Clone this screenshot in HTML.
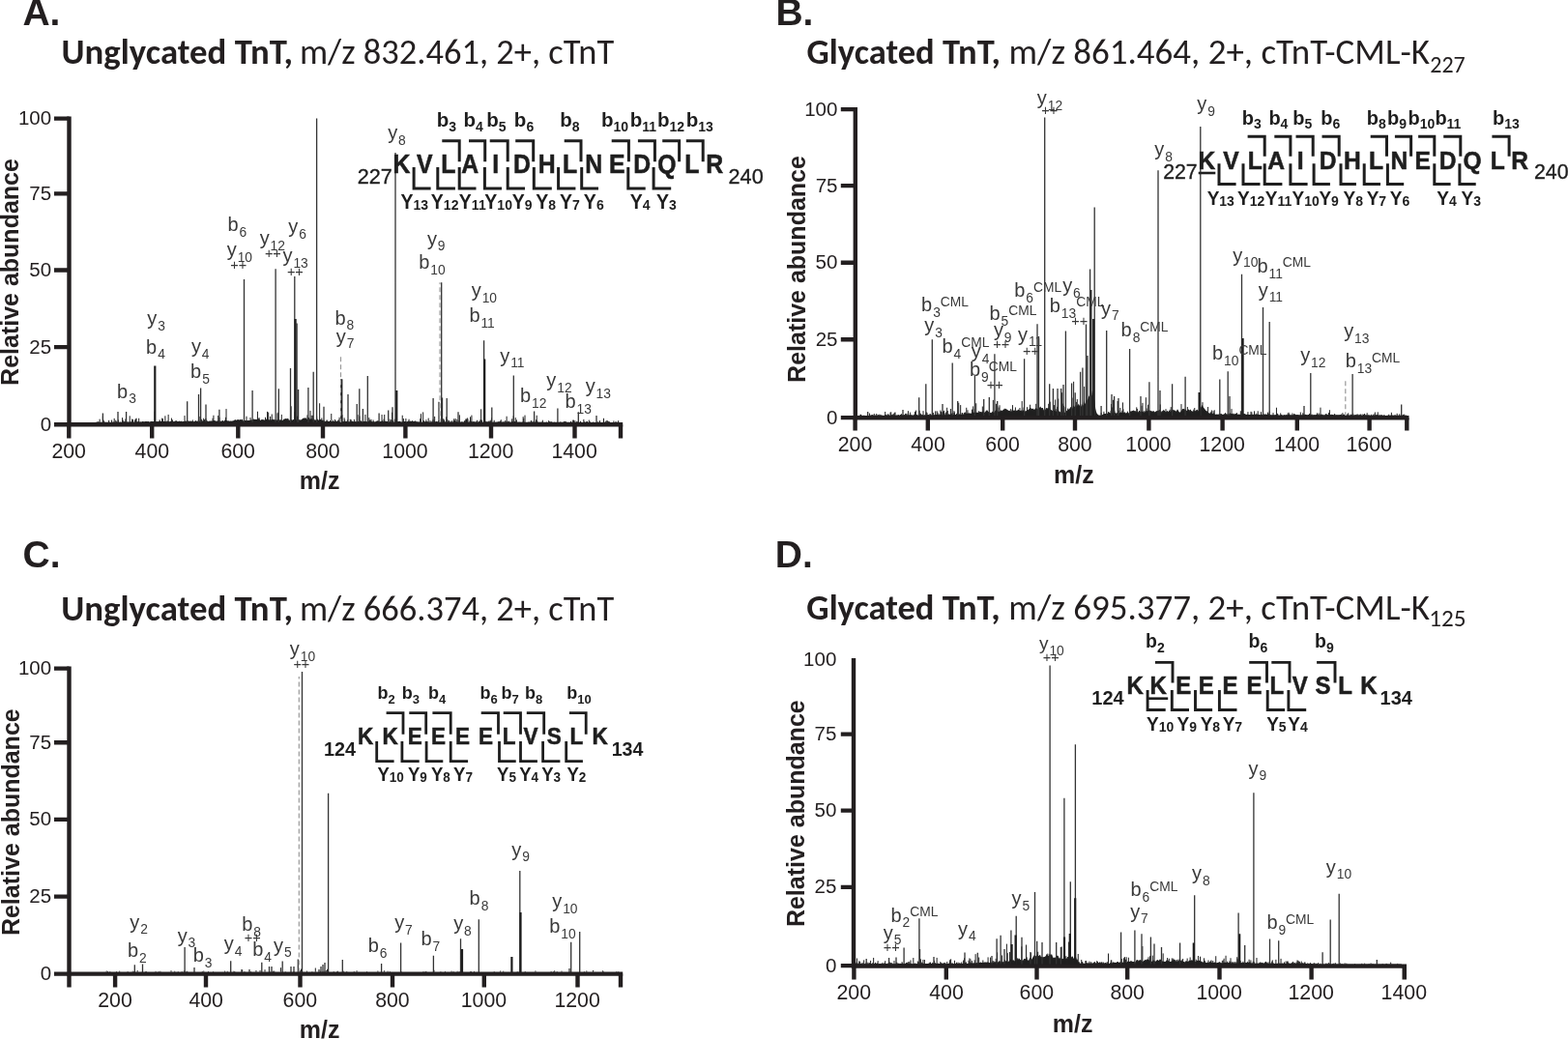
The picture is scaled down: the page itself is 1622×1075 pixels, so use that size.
<!DOCTYPE html>
<html><head><meta charset="utf-8"><title>Figure</title>
<style>html,body{margin:0;padding:0;background:#fff;}svg{display:block;}</style></head>
<body><svg width="1622" height="1075" viewBox="0 0 1622 1075">
<rect width="1622" height="1075" fill="#fff"/>
<text x="23.43" y="25.9" font-size="39" font-weight="700" fill="#231f20" font-family="&quot;Liberation Sans&quot;, Arial, Helvetica, sans-serif">A.</text>
<text x="63.54" y="66.1" font-size="36.2" font-weight="700" fill="#231f20" font-family="Carlito, Calibri, &quot;Liberation Sans&quot;, sans-serif" textLength="239.51" lengthAdjust="spacingAndGlyphs">Unglycated TnT,</text>
<text x="309.9" y="66.1" font-size="36.2" font-weight="400" fill="#231f20" font-family="Carlito, Calibri, &quot;Liberation Sans&quot;, sans-serif" textLength="325.33" lengthAdjust="spacingAndGlyphs">m/z 832.461, 2+, cTnT</text>
<text x="802.39" y="25.8" font-size="39" font-weight="700" fill="#231f20" font-family="&quot;Liberation Sans&quot;, Arial, Helvetica, sans-serif">B.</text>
<text x="834.57" y="65.6" font-size="36.2" font-weight="700" fill="#231f20" font-family="Carlito, Calibri, &quot;Liberation Sans&quot;, sans-serif" textLength="200.26" lengthAdjust="spacingAndGlyphs">Glycated TnT,</text>
<text x="1043.58" y="65.6" font-size="36.2" font-weight="400" fill="#231f20" font-family="Carlito, Calibri, &quot;Liberation Sans&quot;, sans-serif" textLength="435.39" lengthAdjust="spacingAndGlyphs">m/z 861.464, 2+, cTnT-CML-K</text>
<text x="1479.32" y="74.5" font-size="24" fill="#231f20" font-family="Carlito, Calibri, &quot;Liberation Sans&quot;, sans-serif" textLength="36.45" lengthAdjust="spacingAndGlyphs">227</text>
<text x="23.6" y="587.4" font-size="39" font-weight="700" fill="#231f20" font-family="&quot;Liberation Sans&quot;, Arial, Helvetica, sans-serif">C.</text>
<text x="63.34" y="641.6" font-size="36.2" font-weight="700" fill="#231f20" font-family="Carlito, Calibri, &quot;Liberation Sans&quot;, sans-serif" textLength="239.62" lengthAdjust="spacingAndGlyphs">Unglycated TnT,</text>
<text x="309.9" y="641.6" font-size="36.2" font-weight="400" fill="#231f20" font-family="Carlito, Calibri, &quot;Liberation Sans&quot;, sans-serif" textLength="325.33" lengthAdjust="spacingAndGlyphs">m/z 666.374, 2+, cTnT</text>
<text x="801.79" y="587" font-size="39" font-weight="700" fill="#231f20" font-family="&quot;Liberation Sans&quot;, Arial, Helvetica, sans-serif">D.</text>
<text x="834.37" y="641.3" font-size="36.2" font-weight="700" fill="#231f20" font-family="Carlito, Calibri, &quot;Liberation Sans&quot;, sans-serif" textLength="200.26" lengthAdjust="spacingAndGlyphs">Glycated TnT,</text>
<text x="1043.38" y="641.3" font-size="36.2" font-weight="400" fill="#231f20" font-family="Carlito, Calibri, &quot;Liberation Sans&quot;, sans-serif" textLength="435.59" lengthAdjust="spacingAndGlyphs">m/z 695.377, 2+, cTnT-CML-K</text>
<text x="1478.23" y="648.2" font-size="24" fill="#231f20" font-family="Carlito, Calibri, &quot;Liberation Sans&quot;, sans-serif" textLength="38.26" lengthAdjust="spacingAndGlyphs">125</text>
<path d="M100 437.4v-0.87M101 437.4v-1.03M101.81 437.4v-1.03M103.14 437.4v-3.75M106.4 437.4v-6.84M107.17 437.4v-2.73M107.76 437.4v-1.27M112.63 437.4v-2.58M115.59 437.4v-2.83M117.27 437.4v-0.85M118.19 437.4v-4.55M119.74 437.4v-2.65M120.81 437.4v-1.54M122.43 437.4v-3.01M126.61 437.4v-5.31M127.11 437.4v-2.89M127.92 437.4v-1.63M128.95 437.4v-1.15M129.92 437.4v-3.92M131.51 437.4v-0.64M134.21 437.4v-7.1M135.23 437.4v-0.77M136.65 437.4v-3.89M137.53 437.4v-3.32M139.71 437.4v-3.01M140.42 437.4v-4.01M141.09 437.4v-4.71M143.66 437.4v-4.66M147.34 437.4v-0.75M150.21 437.4v-0.95M152.87 437.4v-1.19M153.54 437.4v-1.26M155.98 437.4v-0.79M158.48 437.4v-0.93M160.23 437.4v-11.72M165.17 437.4v-3.07M167.69 437.4v-4.79M168.41 437.4v-4.17M170.89 437.4v-7.09M172.63 437.4v-0.64M173.09 437.4v-2.17M174.14 437.4v-8.47M174.97 437.4v-1.28M177.41 437.4v-4.83M177.87 437.4v-0.95M178.42 437.4v-2.99M179.29 437.4v-1.38M180.2 437.4v-0.66M182.07 437.4v-2.26M191.04 437.4v-7.37M191.76 437.4v-0.78M192.5 437.4v-0.63M193.54 437.4v-0.71M194.07 437.4v-1.98M197.07 437.4v-1.94M199.31 437.4v-2.94M201.88 437.4v-1.71M202.45 437.4v-2.12M204.02 437.4v-0.69M204.81 437.4v-1.15M205.3 437.4v-2.75M206.93 437.4v-6.47M208.63 437.4v-3.62M210.2 437.4v-0.79M210.67 437.4v-4.7M211.53 437.4v-3.29M212.35 437.4v-1M212.87 437.4v-4.43M213.44 437.4v-2.65M214.12 437.4v-2.04M214.66 437.4v-1.48M220.04 437.4v-4.69M220.93 437.4v-7.67M221.88 437.4v-0.78M222.4 437.4v-1.25M222.86 437.4v-1.26M224.38 437.4v-0.92M225.7 437.4v-7.49M226.17 437.4v-2.22M226.96 437.4v-5.67M230.46 437.4v-2.25M232.58 437.4v-2.7M233.47 437.4v-5.6M234.02 437.4v-14.33M236.71 437.4v-1.77M243.3 437.4v-2.69M243.76 437.4v-1.6M245.43 437.4v-1.49M246.23 437.4v-3.4M249.18 437.4v-1.77M250.08 437.4v-3.35M250.56 437.4v-3.6M253.97 437.4v-1.03M254.99 437.4v-6.66M256.92 437.4v-1.95M257.59 437.4v-1.6M258.38 437.4v-1.27M259.01 437.4v-5.37M259.48 437.4v-1.08M266.45 437.4v-11.65M267.22 437.4v-3.22M268.07 437.4v-5.31M268.87 437.4v-1M272.84 437.4v-1.53M273.63 437.4v-1.86M274.53 437.4v-5.67M276.54 437.4v-11.51M277.16 437.4v-1.95M277.67 437.4v-10.83M279.62 437.4v-6.48M281.23 437.4v-8.89M283.08 437.4v-3.62M285.4 437.4v-2.56M287 437.4v-9.99M287.98 437.4v-10.7M288.77 437.4v-1.63M289.89 437.4v-1.79M290.39 437.4v-1.4M291.26 437.4v-8.47M292.59 437.4v-1.5M295.74 437.4v-4.06M297.35 437.4v-4.48M298.02 437.4v-4.23M298.59 437.4v-1.02M300.15 437.4v-1.24M301.13 437.4v-17.13M301.89 437.4v-2.55M303.85 437.4v-2.72M304.77 437.4v-11.27M307.54 437.4v-6.8M308.45 437.4v-1.21M309.99 437.4v-2.8M311.87 437.4v-0.86M315.48 437.4v-1.54M316.41 437.4v-3.9M317.99 437.4v-8.04M318.56 437.4v-5.54M319.59 437.4v-5.29M321.03 437.4v-12.49M322.22 437.4v-7.6M322.81 437.4v-1.5M323.61 437.4v-7.59M324.23 437.4v-1.25M324.87 437.4v-0.91M326.6 437.4v-2.71M327.63 437.4v-6.79M329.04 437.4v-2.88M330.64 437.4v-20.15M331.38 437.4v-1M332.8 437.4v-4.89M335.21 437.4v-2.6M337.66 437.4v-1.33M338.17 437.4v-3M341.6 437.4v-2.4M342.78 437.4v-9.4M343.42 437.4v-1.21M344.6 437.4v-2.73M346.47 437.4v-3.4M347.34 437.4v-1.99M349 437.4v-1.68M349.62 437.4v-2.14M350.25 437.4v-3.24M351.1 437.4v-5.57M353.93 437.4v-8.12M355.35 437.4v-0.61M356.15 437.4v-5.09M356.7 437.4v-3.08M357.9 437.4v-1.49M359.49 437.4v-3.02M359.95 437.4v-1.21M362.29 437.4v-3.63M363.14 437.4v-3.29M366.37 437.4v-3.5M367.12 437.4v-1.13M368.17 437.4v-1.12M369.94 437.4v-8.29M370.54 437.4v-1.2M371.85 437.4v-6.93M373.66 437.4v-1.92M376.13 437.4v-0.63M377.35 437.4v-0.61M377.91 437.4v-8.44M380.92 437.4v-1.71M381.85 437.4v-5.25M382.58 437.4v-3.09M383.37 437.4v-2.12M383.98 437.4v-3.57M384.82 437.4v-1.29M386.16 437.4v-2.86M390.28 437.4v-1.82M391.27 437.4v-2.06M392.63 437.4v-1.02M395.06 437.4v-8.43M395.58 437.4v-2.18M396.27 437.4v-1.15M397.04 437.4v-3.73M397.72 437.4v-8.44M403.13 437.4v-3.75M404.71 437.4v-3.2M405.52 437.4v-10.74M406.5 437.4v-2.15M408.25 437.4v-3.75M410.48 437.4v-5.39M413.08 437.4v-0.98M416.23 437.4v-7.68M416.81 437.4v-1.03M417.38 437.4v-4.36M419.88 437.4v-4.42M421.36 437.4v-1.33M422.58 437.4v-1.87M423.06 437.4v-3.71M424.16 437.4v-0.82M424.76 437.4v-1.76M426.36 437.4v-2.24M428.01 437.4v-1.69M428.85 437.4v-1.2M429.77 437.4v-1.94M433.19 437.4v-0.72M434.7 437.4v-4.17M435.5 437.4v-9.2M437.66 437.4v-10.95M438.4 437.4v-2.21M440.3 437.4v-0.63M440.89 437.4v-3.11M441.37 437.4v-1.27M442.13 437.4v-1.4M443.19 437.4v-4.82M444.97 437.4v-2.31M446.12 437.4v-0.7M447.16 437.4v-2.02M448.06 437.4v-3.63M449.04 437.4v-2.37M449.67 437.4v-6.49M451.64 437.4v-1.48M453.72 437.4v-2.24M454.55 437.4v-2.62M458.21 437.4v-4.05M458.99 437.4v-3.78M459.57 437.4v-2.78M461.72 437.4v-6.11M462.58 437.4v-3M463.04 437.4v-3.09M464.61 437.4v-2.33M467.16 437.4v-2.15M469.07 437.4v-2.06M469.66 437.4v-4.17M470.47 437.4v-2.56M471.17 437.4v-4.37M472.05 437.4v-0.7M472.9 437.4v-3.46M474.8 437.4v-2.31M475.38 437.4v-8.02M477.24 437.4v-0.86M478.24 437.4v-0.8M480.06 437.4v-0.98M480.57 437.4v-1.99M481.05 437.4v-2.37M481.8 437.4v-3.91M482.49 437.4v-3.79M483.34 437.4v-5.01M484 437.4v-3.99M486.04 437.4v-2.11M486.53 437.4v-6.08M487.28 437.4v-1.58M487.92 437.4v-7.8M489.37 437.4v-0.84M489.93 437.4v-1M490.95 437.4v-1.14M493.49 437.4v-2.63M495.59 437.4v-1.38M496.77 437.4v-2.98M497.62 437.4v-14.07M498.4 437.4v-2.88M501.74 437.4v-2.11M502.73 437.4v-0.66M505.91 437.4v-1.95M507.3 437.4v-2.71M507.95 437.4v-1.3M508.47 437.4v-5.21M511.21 437.4v-2.64M515.65 437.4v-0.66M517.4 437.4v-1.84M518.25 437.4v-3.17M519.74 437.4v-0.7M522.18 437.4v-0.63M522.7 437.4v-2.31M524.11 437.4v-6.68M524.88 437.4v-1.81M526.47 437.4v-1.71M528.33 437.4v-0.66M529.65 437.4v-4.03M530.66 437.4v-1.29M531.18 437.4v-7.08M531.97 437.4v-0.84M532.58 437.4v-1.3M533.25 437.4v-5.28M534.38 437.4v-3.01M537.12 437.4v-1.05M541.15 437.4v-6.25M541.7 437.4v-4.47M543 437.4v-7.81M549.39 437.4v-2.48M550.07 437.4v-0.7M551.01 437.4v-0.75M552.32 437.4v-1.81M554.54 437.4v-3.18M555.2 437.4v-7.61M555.96 437.4v-1.85M560.31 437.4v-0.62M561.32 437.4v-2.7M565.59 437.4v-0.88M566.97 437.4v-0.63M567.67 437.4v-2.27M568.49 437.4v-1.02M569.67 437.4v-0.79M570.68 437.4v-1.15M579.88 437.4v-0.64M583.79 437.4v-1.43M584.3 437.4v-1.51M585.79 437.4v-1.33M590.57 437.4v-1.48M592.69 437.4v-2.78M593.56 437.4v-2.76M594.89 437.4v-2.18M596.83 437.4v-1.55M597.52 437.4v-0.61M598.92 437.4v-0.89M600.53 437.4v-1.63M603.85 437.4v-3.49M604.55 437.4v-1.04M606.43 437.4v-1.11M607.56 437.4v-1.34M609.31 437.4v-2.84M610.3 437.4v-1.24M613.57 437.4v-0.92M618.64 437.4v-0.9M620.49 437.4v-2.23M624.51 437.4v-4.63M626.46 437.4v-1.15M627.23 437.4v-2.41M628.16 437.4v-0.74M628.68 437.4v-2.22M629.18 437.4v-1.32M630.1 437.4v-0.95M630.58 437.4v-0.85M634.86 437.4v-1.94M636.67 437.4v-0.65M637.14 437.4v-1.23M639.13 437.4v-0.88M639.63 437.4v-2.2" stroke="#1f1f1f" stroke-width="1" fill="none"/>
<path d="M100 438.4L100 436.99L100.8 436.94L101.6 436.87L102.4 436.75L103.2 436.67L104 436.74L104.8 436.78L105.6 436.67L106.4 436.78L107.2 436.85L108 436.74L108.8 436.84L109.6 436.85L110.4 436.83L111.2 436.79L112 436.81L112.8 436.79L113.6 436.77L114.4 436.91L115.2 436.67L116 436.85L116.8 436.74L117.6 436.68L118.4 436.7L119.2 436.78L120 436.87L120.8 436.8L121.6 436.78L122.4 436.69L123.2 436.75L124 436.54L124.8 436.55L125.6 436.78L126.4 436.7L127.2 436.38L128 436.69L128.8 436.55L129.6 436.28L130.4 436.45L131.2 436.4L132 436.5L132.8 436.57L133.6 436.44L134.4 436.38L135.2 436.5L136 436.45L136.8 436.41L137.6 436.25L138.4 436.56L139.2 436.69L140 436.66L140.8 436.63L141.6 436.3L142.4 436.35L143.2 436.1L144 436.25L144.8 436.4L145.6 436.22L146.4 436.5L147.2 436.06L148 435.93L148.8 436.18L149.6 436.32L150.4 436.04L151.2 435.92L152 435.96L152.8 436.37L153.6 436.09L154.4 436.43L155.2 436.21L156 436.14L156.8 435.84L157.6 435.89L158.4 436.34L159.2 435.92L160 435.84L160.8 435.91L161.6 436.36L162.4 436.05L163.2 436.13L164 435.97L164.8 435.67L165.6 435.56L166.4 436.12L167.2 435.87L168 436L168.8 435.83L169.6 436.02L170.4 436.06L171.2 436.08L172 436.34L172.8 436.31L173.6 435.97L174.4 436.31L175.2 436.44L176 435.94L176.8 435.82L177.6 435.85L178.4 436.21L179.2 436.38L180 436.31L180.8 435.75L181.6 435.79L182.4 435.5L183.2 435.94L184 435.99L184.8 435.91L185.6 435.61L186.4 436.06L187.2 435.65L188 435.78L188.8 436.22L189.6 436.09L190.4 436.07L191.2 435.8L192 435.44L192.8 435.64L193.6 435.56L194.4 435.78L195.2 435.54L196 436.02L196.8 435.69L197.6 436.03L198.4 435.82L199.2 436.06L200 436.05L200.8 436.2L201.6 436.11L202.4 435.84L203.2 435.76L204 435.85L204.8 435.71L205.6 435.39L206.4 435.68L207.2 435.61L208 435.66L208.8 435.21L209.6 435.61L210.4 435.45L211.2 435.81L212 435.96L212.8 435.58L213.6 435.53L214.4 435.82L215.2 436.15L216 435.56L216.8 435.7L217.6 435.44L218.4 435.58L219.2 435.47L220 435.46L220.8 435.04L221.6 434.89L222.4 435.27L223.2 435.42L224 435.76L224.8 435.39L225.6 435.87L226.4 435.89L227.2 435.34L228 435.91L228.8 435.5L229.6 435.42L230.4 435.4L231.2 435.62L232 435.91L232.8 435.21L233.6 435.05L234.4 434.92L235.2 435.62L236 435.22L236.8 435.63L237.6 435.85L238.4 435.6L239.2 435.38L240 435.81L240.8 435.26L241.6 435.15L242.4 434.66L243.2 434.33L244 434.42L244.8 434.85L245.6 434.21L246.4 434.17L247.2 434.74L248 434.12L248.8 433.96L249.6 434.58L250.4 434.9L251.2 435.44L252 434.85L252.8 435.03L253.6 435.05L254.4 435.12L255.2 435.36L256 434.89L256.8 435L257.6 435.04L258.4 435.07L259.2 434.69L260 433.88L260.8 434.68L261.6 433.9L262.4 433.51L263.2 433.73L264 433.95L264.8 433.73L265.6 433.96L266.4 433.85L267.2 433.36L268 433.35L268.8 434.23L269.6 435.02L270.4 433.89L271.2 434.32L272 433.79L272.8 434.49L273.6 434.45L274.4 434.57L275.2 434.01L276 433.35L276.8 433.78L277.6 433.89L278.4 434.32L279.2 434.74L280 433.69L280.8 434.63L281.6 433.64L282.4 433.64L283.2 434.67L284 433.72L284.8 434.66L285.6 434.3L286.4 434.91L287.2 433.67L288 434.26L288.8 433.54L289.6 434.63L290.4 434.09L291.2 434.89L292 435.36L292.8 434.62L293.6 433.5L294.4 433.48L295.2 433.16L296 433.12L296.8 433.58L297.6 434.61L298.4 434.3L299.2 434.77L300 434.38L300.8 434.5L301.6 434.29L302.4 434.73L303.2 434.03L304 434.2L304.8 434.15L305.6 434.88L306.4 434.49L307.2 434.16L308 433.22L308.8 433.51L309.6 434.45L310.4 434.61L311.2 434.62L312 433.94L312.8 433.15L313.6 432.69L314.4 432.5L315.2 432.45L316 432.55L316.8 432.45L317.6 434.12L318.4 434.06L319.2 433.84L320 433.55L320.8 433.54L321.6 433.53L322.4 432.92L323.2 434.22L324 434.04L324.8 433.11L325.6 434.41L326.4 434.91L327.2 433.71L328 432.93L328.8 434.33L329.6 435.02L330.4 433.93L331.2 433.84L332 434.24L332.8 434.53L333.6 434.64L334.4 434.86L335.2 435.79L336 436.2L336.8 435.81L337.6 435.47L338.4 435.42L339.2 435.74L340 435.96L340.8 436.07L341.6 436.39L342.4 435.94L343.2 436.13L344 435.96L344.8 435.93L345.6 436.06L346.4 435.86L347.2 435.94L348 436.15L348.8 435.75L349.6 436.11L350.4 436.31L351.2 436.33L352 436.16L352.8 435.84L353.6 436.03L354.4 436.21L355.2 435.97L356 436.16L356.8 436.05L357.6 436.21L358.4 435.8L359.2 436.14L360 436.27L360.8 436.28L361.6 436.27L362.4 435.96L363.2 435.85L364 435.7L364.8 435.82L365.6 436.24L366.4 435.92L367.2 436.16L368 436.3L368.8 436.23L369.6 435.75L370.4 435.99L371.2 436.12L372 435.76L372.8 435.53L373.6 435.87L374.4 436.23L375.2 435.92L376 435.77L376.8 436.03L377.6 435.82L378.4 436.03L379.2 436.2L380 436.06L380.8 435.88L381.6 435.99L382.4 435.8L383.2 436.29L384 436.18L384.8 436.22L385.6 436.46L386.4 435.97L387.2 436.29L388 436.4L388.8 435.97L389.6 435.7L390.4 435.59L391.2 435.96L392 435.72L392.8 436.17L393.6 435.98L394.4 435.73L395.2 436.14L396 436.38L396.8 436.13L397.6 435.85L398.4 435.83L399.2 435.66L400 435.93L400.8 436.12L401.6 436.39L402.4 436.42L403.2 435.98L404 436.36L404.8 436.47L405.6 436.41L406.4 436.59L407.2 436.51L408 436.55L408.8 436.61L409.6 436.37L410.4 436.24L411.2 436.16L412 435.99L412.8 436.06L413.6 435.82L414.4 436.28L415.2 436.42L416 436.58L416.8 436.51L417.6 436.18L418.4 435.91L419.2 436.05L420 436.35L420.8 436.39L421.6 436.25L422.4 436.37L423.2 436.1L424 435.85L424.8 436.06L425.6 436.08L426.4 435.93L427.2 436.11L428 436.37L428.8 436.03L429.6 435.83L430.4 436.34L431.2 436.13L432 436.26L432.8 436.54L433.6 436.61L434.4 436.65L435.2 436.31L436 436.48L436.8 436.67L437.6 436.65L438.4 436.29L439.2 436.29L440 436.2L440.8 436.28L441.6 436.48L442.4 436.69L443.2 436.62L444 436.74L444.8 436.67L445.6 436.43L446.4 436.46L447.2 436.41L448 436.3L448.8 436.43L449.6 436.47L450.4 436.19L451.2 436.23L452 436.34L452.8 436.33L453.6 436.37L454.4 436.47L455.2 436.19L456 436.43L456.8 436.17L457.6 436.08L458.4 436.02L459.2 436.4L460 436.39L460.8 436.13L461.6 436.38L462.4 436.58L463.2 436.37L464 436.53L464.8 436.43L465.6 436.61L466.4 436.27L467.2 436.46L468 436.66L468.8 436.44L469.6 436.52L470.4 436.44L471.2 436.44L472 436.21L472.8 436.32L473.6 436.44L474.4 436.7L475.2 436.57L476 436.63L476.8 436.5L477.6 436.41L478.4 436.45L479.2 436.66L480 436.56L480.8 436.52L481.6 436.42L482.4 436.2L483.2 436.44L484 436.48L484.8 436.69L485.6 436.43L486.4 436.59L487.2 436.36L488 436.27L488.8 436.5L489.6 436.29L490.4 436.38L491.2 436.47L492 436.45L492.8 436.25L493.6 436.38L494.4 436.44L495.2 436.58L496 436.37L496.8 436.43L497.6 436.55L498.4 436.68L499.2 436.73L500 436.46L500.8 436.34L501.6 436.19L502.4 436.15L503.2 436.25L504 436.24L504.8 436.28L505.6 436.26L506.4 436.25L507.2 436.54L508 436.39L508.8 436.56L509.6 436.67L510.4 436.41L511.2 436.7L512 436.62L512.8 436.66L513.6 436.47L514.4 436.46L515.2 436.31L516 436.23L516.8 436.33L517.6 436.65L518.4 436.53L519.2 436.73L520 436.42L520.8 436.33L521.6 436.54L522.4 436.7L523.2 436.55L524 436.45L524.8 436.29L525.6 436.38L526.4 436.65L527.2 436.52L528 436.75L528.8 436.51L529.6 436.43L530.4 436.39L531.2 436.33L532 436.43L532.8 436.32L533.6 436.4L534.4 436.51L535.2 436.61L536 436.67L536.8 436.85L537.6 436.88L538.4 436.62L539.2 436.74L540 436.61L540.8 436.5L541.6 436.48L542.4 436.55L543.2 436.67L544 436.75L544.8 436.82L545.6 436.67L546.4 436.58L547.2 436.42L548 436.61L548.8 436.45L549.6 436.38L550.4 436.6L551.2 436.44L552 436.5L552.8 436.39L553.6 436.41L554.4 436.61L555.2 436.72L556 436.69L556.8 436.68L557.6 436.86L558.4 436.62L559.2 436.64L560 436.67L560.8 436.58L561.6 436.73L562.4 436.82L563.2 436.72L564 436.81L564.8 436.82L565.6 436.92L566.4 436.98L567.2 436.9L568 436.79L568.8 436.57L569.6 436.59L570.4 436.68L571.2 436.73L572 436.82L572.8 436.78L573.6 436.57L574.4 436.79L575.2 436.78L576 436.68L576.8 436.61L577.6 436.65L578.4 436.64L579.2 436.52L580 436.48L580.8 436.7L581.6 436.7L582.4 436.54L583.2 436.63L584 436.8L584.8 436.68L585.6 436.87L586.4 436.94L587.2 436.83L588 436.87L588.8 436.74L589.6 436.67L590.4 436.78L591.2 436.68L592 436.67L592.8 436.65L593.6 436.72L594.4 436.77L595.2 436.91L596 436.85L596.8 436.66L597.6 436.59L598.4 436.84L599.2 436.96L600 436.95L600.8 436.81L601.6 436.82L602.4 436.93L603.2 436.89L604 436.82L604.8 436.73L605.6 436.8L606.4 436.75L607.2 436.72L608 436.73L608.8 436.92L609.6 436.8L610.4 436.93L611.2 437.02L612 436.93L612.8 437.03L613.6 437.06L614.4 436.98L615.2 436.92L616 437L616.8 436.78L617.6 436.7L618.4 436.77L619.2 436.78L620 436.87L620.8 436.71L621.6 436.89L622.4 436.93L623.2 436.98L624 436.81L624.8 436.83L625.6 436.87L626.4 436.9L627.2 436.77L628 436.89L628.8 436.79L629.6 436.77L630.4 436.84L631.2 436.9L632 436.9L632.8 436.91L633.6 436.95L634.4 436.88L635.2 436.91L636 436.95L636.8 436.85L637.6 436.88L638.4 436.9L639.2 436.79L640 436.86L640 438.4Z" fill="#1f1f1f"/>
<path d="M106.4 438.3V427.6M122 438.3V425.9M130.6 438.3V425.9M193.7 438.3V415.2M205.5 438.3V407.9M207.6 438.3V401.5M213 438.3V418.6M226.9 438.3V423.7M252.5 438.3V288.9M261.1 438.3V404M285.1 438.3V278.2M288.3 438.3V402.3M300.5 438.3V380.9M304.8 438.3V285.9M307.1 438.3V334.5M308.6 438.3V403M318.9 438.3V401M324.2 438.3V384.8M327.6 438.3V122.6M335 438.3V420.7M360 438.3V407.9M369.2 438.3V418M371.8 438.3V402.3M375.4 438.3V423M380.3 438.3V389M392.1 438.3V427.6M401.7 438.3V424.4M406 438.3V421.2M409 438.3V158M448.1 438.3V412.1M454 438.3V415.8M456.7 438.3V292.3M457.5 438.3V411.5M462.2 438.3V412.1M474 438.3V426.2M500.6 438.3V352.2M508.8 438.3V421.4M531.3 438.3V388.5M552.6 438.3V425.5M576.9 438.3V422.5M598.3 438.3V426.2M617 438.3V430" stroke="#333" stroke-width="1.3" fill="none"/>
<path d="M160.3 438.3V378.4M305.6 438.3V330M353.3 438.3V392.3M410.3 438.3V404M501.2 438.3V371.4" stroke="#1e1e1e" stroke-width="2.2" fill="none"/>
<path d="M352.5 438.3V368.7M455 438.3V292.3" stroke="#9a9a9a" stroke-width="1.2" stroke-dasharray="5 3" fill="none"/>
<path d="M71.5 120.4V441.5M69.3 439.3H644.2" stroke="#231f20" stroke-width="4.4" fill="none"/>
<text x="18.9" y="129.05" font-size="20.5" font-weight="400" fill="#231f20" text-anchor="start" font-family="&quot;Liberation Sans&quot;, Arial, Helvetica, sans-serif" >100</text>
<text x="30.36" y="206.85" font-size="20.5" font-weight="400" fill="#231f20" text-anchor="start" font-family="&quot;Liberation Sans&quot;, Arial, Helvetica, sans-serif" >75</text>
<text x="30.3" y="285.95" font-size="20.5" font-weight="400" fill="#231f20" text-anchor="start" font-family="&quot;Liberation Sans&quot;, Arial, Helvetica, sans-serif" >50</text>
<text x="30.36" y="365.55" font-size="20.5" font-weight="400" fill="#231f20" text-anchor="start" font-family="&quot;Liberation Sans&quot;, Arial, Helvetica, sans-serif" >25</text>
<text x="41.7" y="445.75" font-size="20.5" font-weight="400" fill="#231f20" text-anchor="start" font-family="&quot;Liberation Sans&quot;, Arial, Helvetica, sans-serif" >0</text>
<text x="53.41" y="473.6" font-size="21.3" font-weight="400" fill="#231f20" text-anchor="start" font-family="&quot;Liberation Sans&quot;, Arial, Helvetica, sans-serif" >200</text>
<text x="139.6" y="473.6" font-size="21.3" font-weight="400" fill="#231f20" text-anchor="start" font-family="&quot;Liberation Sans&quot;, Arial, Helvetica, sans-serif" >400</text>
<text x="228.41" y="473.6" font-size="21.3" font-weight="400" fill="#231f20" text-anchor="start" font-family="&quot;Liberation Sans&quot;, Arial, Helvetica, sans-serif" >600</text>
<text x="316.18" y="473.6" font-size="21.3" font-weight="400" fill="#231f20" text-anchor="start" font-family="&quot;Liberation Sans&quot;, Arial, Helvetica, sans-serif" >800</text>
<text x="395.31" y="473.6" font-size="21.3" font-weight="400" fill="#231f20" text-anchor="start" font-family="&quot;Liberation Sans&quot;, Arial, Helvetica, sans-serif" >1000</text>
<text x="483.91" y="473.6" font-size="21.3" font-weight="400" fill="#231f20" text-anchor="start" font-family="&quot;Liberation Sans&quot;, Arial, Helvetica, sans-serif" >1200</text>
<text x="570.41" y="473.6" font-size="21.3" font-weight="400" fill="#231f20" text-anchor="start" font-family="&quot;Liberation Sans&quot;, Arial, Helvetica, sans-serif" >1400</text>
<path d="M56 122.6H71.5M56 200.4H71.5M56 279.5H71.5M56 359.1H71.5M56 439.3H71.5M71.3 439.3V453.6M157.2 439.3V453.6M246.3 439.3V453.6M334 439.3V453.6M419.4 439.3V453.6M508 439.3V453.6M594.5 439.3V453.6M642 439.3V453.6" stroke="#231f20" stroke-width="4.4" fill="none"/>
<text x="309.79" y="506" font-size="25" font-weight="700" fill="#231f20" text-anchor="start" font-family="&quot;Liberation Sans&quot;, Arial, Helvetica, sans-serif" >m/z</text>
<text transform="translate(19.2 281.5) rotate(-90)" x="0" y="0" text-anchor="middle" font-size="25" font-weight="700" fill="#231f20" font-family="&quot;Liberation Sans&quot;, Arial, Helvetica, sans-serif">Relative abundance</text>
<text x="121.11" y="411.5" font-size="20" font-weight="400" fill="#3a3a3a" font-family="&quot;Liberation Sans&quot;, Arial, Helvetica, sans-serif">b<tspan font-size="13.8" dx="0.9" dy="5.8">3</tspan></text>
<text x="152.35" y="336" font-size="20" font-weight="400" fill="#3a3a3a" font-family="&quot;Liberation Sans&quot;, Arial, Helvetica, sans-serif">y<tspan font-size="13.8" dx="0.9" dy="5.8">3</tspan></text>
<text x="151.11" y="365.5" font-size="20" font-weight="400" fill="#3a3a3a" font-family="&quot;Liberation Sans&quot;, Arial, Helvetica, sans-serif">b<tspan font-size="13.8" dx="0.9" dy="5.8">4</tspan></text>
<text x="197.95" y="364.8" font-size="20" font-weight="400" fill="#3a3a3a" font-family="&quot;Liberation Sans&quot;, Arial, Helvetica, sans-serif">y<tspan font-size="13.8" dx="0.9" dy="5.8">4</tspan></text>
<text x="197.11" y="391.2" font-size="20" font-weight="400" fill="#3a3a3a" font-family="&quot;Liberation Sans&quot;, Arial, Helvetica, sans-serif">b<tspan font-size="13.8" dx="0.9" dy="5.8">5</tspan></text>
<text x="235.41" y="239.2" font-size="20" font-weight="400" fill="#3a3a3a" font-family="&quot;Liberation Sans&quot;, Arial, Helvetica, sans-serif">b<tspan font-size="13.8" dx="0.9" dy="5.8">6</tspan></text>
<text x="234.75" y="265.4" font-size="20" font-weight="400" fill="#3a3a3a" font-family="&quot;Liberation Sans&quot;, Arial, Helvetica, sans-serif">y<tspan font-size="13.8" dx="0.9" dy="5.8">10</tspan></text>
<text x="238.29" y="278.6" font-size="14.5" font-weight="400" fill="#3a3a3a" text-anchor="start" font-family="&quot;Liberation Sans&quot;, Arial, Helvetica, sans-serif" >++</text>
<text x="268.65" y="253.2" font-size="20" font-weight="400" fill="#3a3a3a" font-family="&quot;Liberation Sans&quot;, Arial, Helvetica, sans-serif">y<tspan font-size="13.8" dx="0.9" dy="5.8">12</tspan></text>
<text x="273.89" y="266.5" font-size="14.5" font-weight="400" fill="#3a3a3a" text-anchor="start" font-family="&quot;Liberation Sans&quot;, Arial, Helvetica, sans-serif" >++</text>
<text x="298.35" y="241.4" font-size="20" font-weight="400" fill="#3a3a3a" font-family="&quot;Liberation Sans&quot;, Arial, Helvetica, sans-serif">y<tspan font-size="13.8" dx="0.9" dy="5.8">6</tspan></text>
<text x="292.55" y="271.4" font-size="20" font-weight="400" fill="#3a3a3a" font-family="&quot;Liberation Sans&quot;, Arial, Helvetica, sans-serif">y<tspan font-size="13.8" dx="0.9" dy="5.8">13</tspan></text>
<text x="296.89" y="285.6" font-size="14.5" font-weight="400" fill="#3a3a3a" text-anchor="start" font-family="&quot;Liberation Sans&quot;, Arial, Helvetica, sans-serif" >++</text>
<text x="346.51" y="335.6" font-size="20" font-weight="400" fill="#3a3a3a" font-family="&quot;Liberation Sans&quot;, Arial, Helvetica, sans-serif">b<tspan font-size="13.8" dx="0.9" dy="5.8">8</tspan></text>
<text x="347.75" y="354.5" font-size="20" font-weight="400" fill="#3a3a3a" font-family="&quot;Liberation Sans&quot;, Arial, Helvetica, sans-serif">y<tspan font-size="13.8" dx="0.9" dy="5.8">7</tspan></text>
<text x="401.15" y="143.8" font-size="20" font-weight="400" fill="#3a3a3a" font-family="&quot;Liberation Sans&quot;, Arial, Helvetica, sans-serif">y<tspan font-size="13.8" dx="0.9" dy="5.8">8</tspan></text>
<text x="441.95" y="253.5" font-size="20" font-weight="400" fill="#3a3a3a" font-family="&quot;Liberation Sans&quot;, Arial, Helvetica, sans-serif">y<tspan font-size="13.8" dx="0.9" dy="5.8">9</tspan></text>
<text x="433.21" y="277.8" font-size="20" font-weight="400" fill="#3a3a3a" font-family="&quot;Liberation Sans&quot;, Arial, Helvetica, sans-serif">b<tspan font-size="13.8" dx="0.9" dy="5.8">10</tspan></text>
<text x="487.75" y="307" font-size="20" font-weight="400" fill="#3a3a3a" font-family="&quot;Liberation Sans&quot;, Arial, Helvetica, sans-serif">y<tspan font-size="13.8" dx="0.9" dy="5.8">10</tspan></text>
<text x="485.41" y="333.4" font-size="20" font-weight="400" fill="#3a3a3a" font-family="&quot;Liberation Sans&quot;, Arial, Helvetica, sans-serif">b<tspan font-size="13.8" dx="0.9" dy="5.8">11</tspan></text>
<text x="517.25" y="374.5" font-size="20" font-weight="400" fill="#3a3a3a" font-family="&quot;Liberation Sans&quot;, Arial, Helvetica, sans-serif">y<tspan font-size="13.8" dx="0.9" dy="5.8">11</tspan></text>
<text x="538.01" y="415.8" font-size="20" font-weight="400" fill="#3a3a3a" font-family="&quot;Liberation Sans&quot;, Arial, Helvetica, sans-serif">b<tspan font-size="13.8" dx="0.9" dy="5.8">12</tspan></text>
<text x="565.35" y="400.4" font-size="20" font-weight="400" fill="#3a3a3a" font-family="&quot;Liberation Sans&quot;, Arial, Helvetica, sans-serif">y<tspan font-size="13.8" dx="0.9" dy="5.8">12</tspan></text>
<text x="584.51" y="422.2" font-size="20" font-weight="400" fill="#3a3a3a" font-family="&quot;Liberation Sans&quot;, Arial, Helvetica, sans-serif">b<tspan font-size="13.8" dx="0.9" dy="5.8">13</tspan></text>
<text x="605.65" y="405.7" font-size="20" font-weight="400" fill="#3a3a3a" font-family="&quot;Liberation Sans&quot;, Arial, Helvetica, sans-serif">y<tspan font-size="13.8" dx="0.9" dy="5.8">13</tspan></text>
<text x="406.54" y="179.1" font-size="24.8" font-weight="700" fill="#1e1e1e" stroke="#1e1e1e" stroke-width="0.5" font-family="&quot;Liberation Sans&quot;, Arial, Helvetica, sans-serif" transform="translate(0 179.1) scale(1 1.11) translate(0 -179.1)">K</text>
<text x="431.13" y="179.1" font-size="24.8" font-weight="700" fill="#1e1e1e" stroke="#1e1e1e" stroke-width="0.5" font-family="&quot;Liberation Sans&quot;, Arial, Helvetica, sans-serif" transform="translate(0 179.1) scale(1 1.11) translate(0 -179.1)">V</text>
<text x="456.34" y="179.1" font-size="24.8" font-weight="700" fill="#1e1e1e" stroke="#1e1e1e" stroke-width="0.5" font-family="&quot;Liberation Sans&quot;, Arial, Helvetica, sans-serif" transform="translate(0 179.1) scale(1 1.11) translate(0 -179.1)">L</text>
<text x="477.28" y="179.1" font-size="24.8" font-weight="700" fill="#1e1e1e" stroke="#1e1e1e" stroke-width="0.5" font-family="&quot;Liberation Sans&quot;, Arial, Helvetica, sans-serif" transform="translate(0 179.1) scale(1 1.11) translate(0 -179.1)">A</text>
<text x="509.34" y="179.1" font-size="24.8" font-weight="700" fill="#1e1e1e" stroke="#1e1e1e" stroke-width="0.5" font-family="&quot;Liberation Sans&quot;, Arial, Helvetica, sans-serif" transform="translate(0 179.1) scale(1 1.11) translate(0 -179.1)">I</text>
<text x="530.94" y="179.1" font-size="24.8" font-weight="700" fill="#1e1e1e" stroke="#1e1e1e" stroke-width="0.5" font-family="&quot;Liberation Sans&quot;, Arial, Helvetica, sans-serif" transform="translate(0 179.1) scale(1 1.11) translate(0 -179.1)">D</text>
<text x="556.74" y="179.1" font-size="24.8" font-weight="700" fill="#1e1e1e" stroke="#1e1e1e" stroke-width="0.5" font-family="&quot;Liberation Sans&quot;, Arial, Helvetica, sans-serif" transform="translate(0 179.1) scale(1 1.11) translate(0 -179.1)">H</text>
<text x="582.04" y="179.1" font-size="24.8" font-weight="700" fill="#1e1e1e" stroke="#1e1e1e" stroke-width="0.5" font-family="&quot;Liberation Sans&quot;, Arial, Helvetica, sans-serif" transform="translate(0 179.1) scale(1 1.11) translate(0 -179.1)">L</text>
<text x="605.14" y="179.1" font-size="24.8" font-weight="700" fill="#1e1e1e" stroke="#1e1e1e" stroke-width="0.5" font-family="&quot;Liberation Sans&quot;, Arial, Helvetica, sans-serif" transform="translate(0 179.1) scale(1 1.11) translate(0 -179.1)">N</text>
<text x="630.04" y="179.1" font-size="24.8" font-weight="700" fill="#1e1e1e" stroke="#1e1e1e" stroke-width="0.5" font-family="&quot;Liberation Sans&quot;, Arial, Helvetica, sans-serif" transform="translate(0 179.1) scale(1 1.11) translate(0 -179.1)">E</text>
<text x="655.34" y="179.1" font-size="24.8" font-weight="700" fill="#1e1e1e" stroke="#1e1e1e" stroke-width="0.5" font-family="&quot;Liberation Sans&quot;, Arial, Helvetica, sans-serif" transform="translate(0 179.1) scale(1 1.11) translate(0 -179.1)">D</text>
<text x="680.28" y="179.1" font-size="24.8" font-weight="700" fill="#1e1e1e" stroke="#1e1e1e" stroke-width="0.5" font-family="&quot;Liberation Sans&quot;, Arial, Helvetica, sans-serif" transform="translate(0 179.1) scale(1 1.11) translate(0 -179.1)">Q</text>
<text x="708.14" y="179.1" font-size="24.8" font-weight="700" fill="#1e1e1e" stroke="#1e1e1e" stroke-width="0.5" font-family="&quot;Liberation Sans&quot;, Arial, Helvetica, sans-serif" transform="translate(0 179.1) scale(1 1.11) translate(0 -179.1)">L</text>
<text x="730.14" y="179.1" font-size="24.8" font-weight="700" fill="#1e1e1e" stroke="#1e1e1e" stroke-width="0.5" font-family="&quot;Liberation Sans&quot;, Arial, Helvetica, sans-serif" transform="translate(0 179.1) scale(1 1.11) translate(0 -179.1)">R</text>
<path d="M457.3 145.8H475.2V167.3M485 145.8H501.7V167.3M506.7 145.8H525.2V167.3M533.2 145.8H551.7V167.3M583.7 145.8H601V167.3M632.7 145.8H650.4V167.3M659.9 145.8H677.4V167.3M685.2 145.8H702.6V167.3M709.8 145.8H727.2V167.3M428.1 172.9V195.1H445.6M452.8 172.9V195.1H470.9M475.2 172.9V195.1H492.5M501.4 172.9V195.1H519M525.2 172.9V195.1H543M552.3 172.9V195.1H570.8M577.6 172.9V195.1H595.4M601.7 172.9V195.1H619M649.8 172.9V195.1H667.7M676.1 172.9V195.1H694.2" stroke="#1e1e1e" stroke-width="3" fill="none" stroke-linecap="butt" stroke-linejoin="miter"/>
<text x="451.65" y="131.4" font-size="20.5" font-weight="700" fill="#1e1e1e" font-family="&quot;Liberation Sans&quot;, Arial, Helvetica, sans-serif">b<tspan font-size="14" dx="0" dy="4.5">3</tspan></text>
<text x="479.45" y="131.4" font-size="20.5" font-weight="700" fill="#1e1e1e" font-family="&quot;Liberation Sans&quot;, Arial, Helvetica, sans-serif">b<tspan font-size="14" dx="0" dy="4.5">4</tspan></text>
<text x="503.25" y="131.4" font-size="20.5" font-weight="700" fill="#1e1e1e" font-family="&quot;Liberation Sans&quot;, Arial, Helvetica, sans-serif">b<tspan font-size="14" dx="0" dy="4.5">5</tspan></text>
<text x="531.85" y="131.4" font-size="20.5" font-weight="700" fill="#1e1e1e" font-family="&quot;Liberation Sans&quot;, Arial, Helvetica, sans-serif">b<tspan font-size="14" dx="0" dy="4.5">6</tspan></text>
<text x="579.25" y="131.4" font-size="20.5" font-weight="700" fill="#1e1e1e" font-family="&quot;Liberation Sans&quot;, Arial, Helvetica, sans-serif">b<tspan font-size="14" dx="0" dy="4.5">8</tspan></text>
<text x="622.05" y="131.4" font-size="20.5" font-weight="700" fill="#1e1e1e" font-family="&quot;Liberation Sans&quot;, Arial, Helvetica, sans-serif">b<tspan font-size="14" dx="0" dy="4.5">10</tspan></text>
<text x="651.65" y="131.4" font-size="20.5" font-weight="700" fill="#1e1e1e" font-family="&quot;Liberation Sans&quot;, Arial, Helvetica, sans-serif">b<tspan font-size="14" dx="0" dy="4.5">11</tspan></text>
<text x="679.95" y="131.4" font-size="20.5" font-weight="700" fill="#1e1e1e" font-family="&quot;Liberation Sans&quot;, Arial, Helvetica, sans-serif">b<tspan font-size="14" dx="0" dy="4.5">12</tspan></text>
<text x="709.65" y="131.4" font-size="20.5" font-weight="700" fill="#1e1e1e" font-family="&quot;Liberation Sans&quot;, Arial, Helvetica, sans-serif">b<tspan font-size="14" dx="0" dy="4.5">13</tspan></text>
<text x="414.47" y="216" font-size="19.5" font-weight="700" fill="#1e1e1e" font-family="&quot;Liberation Sans&quot;, Arial, Helvetica, sans-serif" transform="translate(0 216) scale(1 1.1) translate(0 -216)">Y<tspan font-size="14" dx="0" dy="0.7">13</tspan></text>
<text x="445.87" y="216" font-size="19.5" font-weight="700" fill="#1e1e1e" font-family="&quot;Liberation Sans&quot;, Arial, Helvetica, sans-serif" transform="translate(0 216) scale(1 1.1) translate(0 -216)">Y<tspan font-size="14" dx="0" dy="0.7">12</tspan></text>
<text x="474.87" y="216" font-size="19.5" font-weight="700" fill="#1e1e1e" font-family="&quot;Liberation Sans&quot;, Arial, Helvetica, sans-serif" transform="translate(0 216) scale(1 1.1) translate(0 -216)">Y<tspan font-size="14" dx="0" dy="0.7">11</tspan></text>
<text x="501.37" y="216" font-size="19.5" font-weight="700" fill="#1e1e1e" font-family="&quot;Liberation Sans&quot;, Arial, Helvetica, sans-serif" transform="translate(0 216) scale(1 1.1) translate(0 -216)">Y<tspan font-size="14" dx="0" dy="0.7">10</tspan></text>
<text x="529.67" y="216" font-size="19.5" font-weight="700" fill="#1e1e1e" font-family="&quot;Liberation Sans&quot;, Arial, Helvetica, sans-serif" transform="translate(0 216) scale(1 1.1) translate(0 -216)">Y<tspan font-size="14" dx="0" dy="0.7">9</tspan></text>
<text x="554.37" y="216" font-size="19.5" font-weight="700" fill="#1e1e1e" font-family="&quot;Liberation Sans&quot;, Arial, Helvetica, sans-serif" transform="translate(0 216) scale(1 1.1) translate(0 -216)">Y<tspan font-size="14" dx="0" dy="0.7">8</tspan></text>
<text x="579.07" y="216" font-size="19.5" font-weight="700" fill="#1e1e1e" font-family="&quot;Liberation Sans&quot;, Arial, Helvetica, sans-serif" transform="translate(0 216) scale(1 1.1) translate(0 -216)">Y<tspan font-size="14" dx="0" dy="0.7">7</tspan></text>
<text x="603.87" y="216" font-size="19.5" font-weight="700" fill="#1e1e1e" font-family="&quot;Liberation Sans&quot;, Arial, Helvetica, sans-serif" transform="translate(0 216) scale(1 1.1) translate(0 -216)">Y<tspan font-size="14" dx="0" dy="0.7">6</tspan></text>
<text x="651.77" y="216" font-size="19.5" font-weight="700" fill="#1e1e1e" font-family="&quot;Liberation Sans&quot;, Arial, Helvetica, sans-serif" transform="translate(0 216) scale(1 1.1) translate(0 -216)">Y<tspan font-size="14" dx="0" dy="0.7">4</tspan></text>
<text x="678.97" y="216" font-size="19.5" font-weight="700" fill="#1e1e1e" font-family="&quot;Liberation Sans&quot;, Arial, Helvetica, sans-serif" transform="translate(0 216) scale(1 1.1) translate(0 -216)">Y<tspan font-size="14" dx="0" dy="0.7">3</tspan></text>
<text x="369.81" y="189.6" font-size="21.6" font-weight="400" fill="#1e1e1e" text-anchor="start" font-family="&quot;Liberation Sans&quot;, Arial, Helvetica, sans-serif" stroke="#1e1e1e" stroke-width="0.35">227</text>
<text x="753.61" y="189.7" font-size="21.6" font-weight="400" fill="#1e1e1e" text-anchor="start" font-family="&quot;Liberation Sans&quot;, Arial, Helvetica, sans-serif" stroke="#1e1e1e" stroke-width="0.35">240</text>
<path d="M890 430.3v-1.57M890.46 430.3v-1.36M890.99 430.3v-0.86M899.56 430.3v-2.73M901.08 430.3v-0.82M901.93 430.3v-1.1M902.6 430.3v-1.14M903.41 430.3v-0.79M904.27 430.3v-2.32M905.31 430.3v-0.81M906.76 430.3v-2.3M907.75 430.3v-0.6M908.41 430.3v-1.03M908.97 430.3v-0.63M909.9 430.3v-1.63M910.77 430.3v-0.91M911.71 430.3v-0.8M912.67 430.3v-0.68M915.68 430.3v-4.33M916.43 430.3v-1.17M916.99 430.3v-0.91M918.26 430.3v-1.7M918.86 430.3v-1.91M919.48 430.3v-0.85M921.06 430.3v-3.72M921.74 430.3v-3.91M922.31 430.3v-1.11M923.21 430.3v-0.89M923.81 430.3v-1.55M924.3 430.3v-2.17M925.28 430.3v-3.4M926.03 430.3v-3.77M928.18 430.3v-0.76M929.66 430.3v-1.19M931.48 430.3v-1.27M932.43 430.3v-2.11M934.84 430.3v-1.16M935.82 430.3v-1.23M936.66 430.3v-2.38M937.14 430.3v-1.9M937.9 430.3v-2.48M938.69 430.3v-0.68M939.45 430.3v-5.12M941.42 430.3v-3.69M942.97 430.3v-0.65M945.81 430.3v-1.64M946.43 430.3v-4.22M947.43 430.3v-5.71M948.07 430.3v-1.27M948.72 430.3v-1.18M951.08 430.3v-5.53M952.1 430.3v-2.71M952.63 430.3v-2.11M954.1 430.3v-1.38M955.03 430.3v-5.17M956.49 430.3v-0.93M957.82 430.3v-2.61M958.27 430.3v-3.94M959 430.3v-3.28M959.73 430.3v-1.01M960.19 430.3v-1.18M960.82 430.3v-0.83M961.83 430.3v-2.07M962.62 430.3v-2.04M964.81 430.3v-0.89M965.6 430.3v-3.34M967.06 430.3v-1.29M967.65 430.3v-4.91M968.54 430.3v-1.21M969.17 430.3v-5.02M970.03 430.3v-3.57M970.56 430.3v-1.07M971.17 430.3v-2.03M972.86 430.3v-5.8M973.53 430.3v-4.41M974.03 430.3v-3.5M974.75 430.3v-0.93M975.54 430.3v-4.44M976.51 430.3v-5.47M977 430.3v-1.61M978 430.3v-2.9M978.71 430.3v-3.91M979.64 430.3v-8.52M980.3 430.3v-5.2M981.29 430.3v-1.83M982.29 430.3v-1.71M983.55 430.3v-7.27M984.37 430.3v-2.65M985 430.3v-0.65M985.55 430.3v-1.26M986.02 430.3v-3.29M986.97 430.3v-5.17M987.43 430.3v-3.88M988.34 430.3v-1.34M988.97 430.3v-0.91M989.64 430.3v-2.23M990.23 430.3v-2.78M990.72 430.3v-3.77M991.71 430.3v-13.55M992.7 430.3v-1.94M993.68 430.3v-11.21M995.17 430.3v-3.23M995.69 430.3v-3.23M996.38 430.3v-1.3M996.98 430.3v-2.28M997.69 430.3v-3.34M998.29 430.3v-3.86M998.88 430.3v-3.29M999.76 430.3v-8.5M1000.96 430.3v-6M1002.15 430.3v-2.36M1002.95 430.3v-2.87M1003.86 430.3v-1.1M1004.72 430.3v-2.41M1005.45 430.3v-6.73M1006.21 430.3v-3.87M1006.68 430.3v-9.9M1007.46 430.3v-2.02M1008.21 430.3v-7.15M1009.02 430.3v-1.29M1009.77 430.3v-13.05M1010.41 430.3v-3.45M1010.92 430.3v-0.65M1011.43 430.3v-2.49M1012.4 430.3v-5.02M1013.31 430.3v-4.43M1014.77 430.3v-3.73M1015.29 430.3v-0.98M1016.33 430.3v-9.79M1017.22 430.3v-0.87M1017.92 430.3v-1.04M1019.73 430.3v-3.24M1020.24 430.3v-0.78M1020.98 430.3v-0.97M1021.48 430.3v-2.83M1023.16 430.3v-1.5M1023.93 430.3v-2.06M1024.74 430.3v-3.48M1026.53 430.3v-1.41M1027.32 430.3v-16.42M1028.17 430.3v-1.33M1029.08 430.3v-1.57M1030.39 430.3v-12.49M1030.95 430.3v-6.46M1031.71 430.3v-10.23M1033.11 430.3v-8.71M1034.03 430.3v-11.05M1034.79 430.3v-5.06M1037.59 430.3v-2.93M1038.37 430.3v-6.54M1039.16 430.3v-7.57M1039.88 430.3v-2.66M1040.55 430.3v-4.63M1041.24 430.3v-5.29M1041.82 430.3v-1.8M1043.5 430.3v-4.16M1044.26 430.3v-2.92M1044.77 430.3v-1.95M1045.69 430.3v-7.16M1046.16 430.3v-1.34M1046.67 430.3v-2.41M1047.46 430.3v-11.18M1048.63 430.3v-0.91M1049.43 430.3v-2.73M1050.38 430.3v-8.84M1051.37 430.3v-4.66M1052.06 430.3v-2.72M1052.98 430.3v-1.74M1053.87 430.3v-2.18M1054.91 430.3v-8.28M1055.75 430.3v-1.24M1057.2 430.3v-15.24M1058.24 430.3v-4.23M1059.06 430.3v-8.77M1059.81 430.3v-3.56M1060.69 430.3v-4.04M1061.52 430.3v-1.12M1062.51 430.3v-9.08M1063.25 430.3v-1.81M1063.93 430.3v-3.68M1064.86 430.3v-2.49M1065.56 430.3v-11.57M1066.06 430.3v-5.71M1067.6 430.3v-0.9M1068.56 430.3v-6.36M1069.32 430.3v-0.64M1070.06 430.3v-1.4M1070.53 430.3v-1.2M1071.01 430.3v-2.27M1071.76 430.3v-12.5M1072.37 430.3v-5.48M1073.11 430.3v-6.59M1073.81 430.3v-0.73M1074.76 430.3v-3.6M1075.66 430.3v-3.33M1076.49 430.3v-2.13M1078 430.3v-5.02M1079.61 430.3v-3.72M1080.18 430.3v-1.48M1081.34 430.3v-5.42M1082.01 430.3v-2.49M1082.61 430.3v-4.08M1083.57 430.3v-0.82M1084.11 430.3v-1.38M1084.73 430.3v-12.5M1085.65 430.3v-14.64M1086.24 430.3v-14.6M1087.08 430.3v-0.94M1087.63 430.3v-1.32M1089.16 430.3v-1.11M1089.93 430.3v-2.13M1090.68 430.3v-11.21M1091.66 430.3v-16.85M1092.12 430.3v-7.04M1093.09 430.3v-1.97M1093.57 430.3v-9.44M1094.28 430.3v-6.67M1094.87 430.3v-17.75M1095.42 430.3v-0.95M1096.05 430.3v-0.64M1097.32 430.3v-2.46M1098.06 430.3v-1.96M1098.64 430.3v-24.11M1099.29 430.3v-12.73M1099.85 430.3v-7.86M1100.31 430.3v-10.48M1101.23 430.3v-1.43M1102.1 430.3v-9.09M1103.69 430.3v-1.74M1104.72 430.3v-7.78M1106.16 430.3v-2.32M1106.7 430.3v-4.13M1107.51 430.3v-3.49M1108.05 430.3v-4.58M1109 430.3v-18.73M1109.78 430.3v-4.8M1110.64 430.3v-35.47M1111.41 430.3v-5.19M1112.15 430.3v-2.08M1112.78 430.3v-10.9M1113.35 430.3v-14.44M1114.28 430.3v-17.26M1115.2 430.3v-9.78M1116.05 430.3v-2.87M1116.83 430.3v-9.47M1117.78 430.3v-5.71M1118.28 430.3v-1.7M1118.73 430.3v-5.41M1120.14 430.3v-9.94M1120.92 430.3v-8.03M1121.64 430.3v-30.37M1122.26 430.3v-2.87M1123.18 430.3v-2.11M1124.16 430.3v-4.51M1125.08 430.3v-13.07M1125.96 430.3v-8.93M1126.95 430.3v-5.6M1127.67 430.3v-31.16M1128.46 430.3v-19.21M1128.93 430.3v-1.76M1129.64 430.3v-3.95M1130.48 430.3v-1.85M1131.26 430.3v-13.02M1131.92 430.3v-3.63M1132.88 430.3v-0.73M1139.21 430.3v-3.24M1140.09 430.3v-1.12M1141.06 430.3v-1.02M1141.91 430.3v-4.48M1142.53 430.3v-2.17M1144.25 430.3v-2.01M1145.04 430.3v-1.25M1146.02 430.3v-1.85M1146.57 430.3v-4.25M1148.27 430.3v-1.77M1149.05 430.3v-5.41M1150.07 430.3v-8.94M1150.73 430.3v-8.61M1151.41 430.3v-16.5M1152.16 430.3v-3.21M1152.85 430.3v-5.51M1153.5 430.3v-3.53M1155.24 430.3v-3.06M1155.93 430.3v-2.21M1156.49 430.3v-3.93M1157.28 430.3v-5.6M1157.92 430.3v-1.28M1158.88 430.3v-8.29M1159.66 430.3v-3.06M1160.42 430.3v-1.95M1160.98 430.3v-5.55M1161.45 430.3v-13.89M1161.96 430.3v-6.99M1162.84 430.3v-0.77M1163.63 430.3v-3.68M1164.33 430.3v-1.63M1165.03 430.3v-1.37M1166.39 430.3v-4.69M1166.95 430.3v-3.14M1167.7 430.3v-0.63M1168.57 430.3v-3.67M1169.66 430.3v-4.15M1170.7 430.3v-3.24M1171.37 430.3v-1.3M1172.54 430.3v-2.12M1174.41 430.3v-5.08M1175.27 430.3v-4.35M1175.75 430.3v-8.95M1176.42 430.3v-7.31M1177.04 430.3v-4.01M1177.85 430.3v-1.95M1178.62 430.3v-1M1180.31 430.3v-1.22M1181.04 430.3v-10.5M1181.95 430.3v-13.45M1182.82 430.3v-1.76M1183.31 430.3v-1.3M1183.77 430.3v-5.04M1185.33 430.3v-19.09M1185.97 430.3v-7.78M1186.53 430.3v-3.74M1187.56 430.3v-11.67M1188.05 430.3v-0.92M1188.98 430.3v-0.65M1189.87 430.3v-0.78M1191.58 430.3v-2.12M1192.45 430.3v-1.31M1193.44 430.3v-5.02M1194.45 430.3v-3.76M1195.16 430.3v-3.97M1196.05 430.3v-3.74M1196.88 430.3v-1.41M1197.67 430.3v-1.87M1198.67 430.3v-4.28M1199.29 430.3v-1.82M1199.74 430.3v-4.03M1200.28 430.3v-11.86M1200.88 430.3v-1.56M1201.41 430.3v-1.87M1202.12 430.3v-3.52M1202.85 430.3v-2.34M1203.49 430.3v-0.7M1204.52 430.3v-5.36M1206.01 430.3v-7.13M1206.59 430.3v-3.62M1207.61 430.3v-0.87M1208.39 430.3v-3.38M1209.51 430.3v-5.28M1210.17 430.3v-6.53M1210.65 430.3v-3.01M1211.19 430.3v-9.17M1211.76 430.3v-1.8M1212.74 430.3v-6.15M1213.52 430.3v-4.25M1214.41 430.3v-1.1M1216.19 430.3v-2.91M1216.87 430.3v-2.35M1217.78 430.3v-1.61M1218.25 430.3v-1.35M1219.25 430.3v-1.71M1220.11 430.3v-1.45M1220.97 430.3v-4.07M1221.99 430.3v-12.23M1222.47 430.3v-0.61M1222.99 430.3v-2.71M1224.57 430.3v-1.83M1225.05 430.3v-0.68M1225.57 430.3v-4.96M1226.14 430.3v-0.78M1228.37 430.3v-9.27M1229.01 430.3v-2.15M1229.52 430.3v-6.69M1230.38 430.3v-4.32M1230.91 430.3v-6.08M1232.44 430.3v-0.62M1233.4 430.3v-1.03M1234.1 430.3v-3.36M1234.88 430.3v-6.66M1235.74 430.3v-8.26M1237.64 430.3v-1.77M1238.4 430.3v-6.44M1239.21 430.3v-1.92M1240.22 430.3v-6.37M1241.25 430.3v-3.42M1242.04 430.3v-3.26M1242.59 430.3v-5.05M1243.47 430.3v-2.3M1243.97 430.3v-14.12M1244.94 430.3v-3.2M1245.65 430.3v-4.39M1246.7 430.3v-4.98M1247.59 430.3v-1.63M1248.61 430.3v-3.84M1249.6 430.3v-9.26M1250.36 430.3v-2.88M1251.47 430.3v-1.06M1252.49 430.3v-3.9M1253.33 430.3v-5.87M1254.25 430.3v-1.46M1255.09 430.3v-5.12M1255.63 430.3v-3.02M1256.21 430.3v-6.02M1256.74 430.3v-0.61M1258.26 430.3v-0.68M1259.26 430.3v-0.66M1261.23 430.3v-1.53M1262.24 430.3v-0.96M1262.94 430.3v-1.7M1263.4 430.3v-1.54M1264.12 430.3v-1.03M1267.58 430.3v-3.18M1268.99 430.3v-1.1M1269.95 430.3v-1.46M1270.68 430.3v-1.52M1272.2 430.3v-2.21M1272.68 430.3v-3.1M1273.37 430.3v-1.43M1274.03 430.3v-7.2M1274.96 430.3v-2.1M1275.87 430.3v-2.58M1276.89 430.3v-1.91M1277.93 430.3v-1.31M1278.88 430.3v-2.35M1279.36 430.3v-3.26M1280.26 430.3v-1.06M1281.73 430.3v-0.76M1283.35 430.3v-5.04M1284.25 430.3v-3.13M1284.97 430.3v-1M1285.45 430.3v-2.64M1286.01 430.3v-2.25M1286.56 430.3v-1.52M1287.41 430.3v-0.84M1288.77 430.3v-0.87M1290.12 430.3v-0.91M1290.93 430.3v-4.17M1292.59 430.3v-1M1293.11 430.3v-1.3M1294.03 430.3v-4.48M1294.86 430.3v-3.9M1296.55 430.3v-1.45M1297.5 430.3v-4.94M1299.83 430.3v-2.52M1301.2 430.3v-5.02M1301.75 430.3v-0.63M1302.31 430.3v-0.64M1303.55 430.3v-0.65M1304.5 430.3v-4.09M1305.46 430.3v-0.72M1307.69 430.3v-1.86M1308.22 430.3v-1.33M1309.14 430.3v-1.74M1310.05 430.3v-1.36M1310.91 430.3v-1.36M1311.49 430.3v-3.68M1312.17 430.3v-2.45M1312.75 430.3v-1.53M1313.35 430.3v-4.84M1317.03 430.3v-3.22M1319.96 430.3v-1.09M1320.45 430.3v-8.54M1321.35 430.3v-2.5M1321.92 430.3v-1.77M1324.72 430.3v-2.91M1325.35 430.3v-1.33M1332.14 430.3v-2.85M1333.12 430.3v-3.52M1333.76 430.3v-2.04M1336.92 430.3v-2.83M1337.88 430.3v-0.94M1338.63 430.3v-2.18M1339.58 430.3v-1.85M1340.44 430.3v-0.76M1341.3 430.3v-1.31M1345.31 430.3v-3.79M1346.08 430.3v-1.22M1347.81 430.3v-3.07M1348.26 430.3v-1.91M1349.49 430.3v-1.15M1350.13 430.3v-0.78M1350.99 430.3v-1.05M1354.58 430.3v-2.2M1355.32 430.3v-2.59M1356.19 430.3v-1.24M1357.18 430.3v-1.65M1358.45 430.3v-0.83M1359.26 430.3v-0.9M1360.01 430.3v-0.95M1361.56 430.3v-1.17M1362.35 430.3v-2.95M1362.82 430.3v-1.96M1363.36 430.3v-1.06M1364.08 430.3v-2.85M1365.08 430.3v-1.82M1365.98 430.3v-8.64M1366.64 430.3v-1.46M1367.19 430.3v-1.65M1368.08 430.3v-1.4M1369.11 430.3v-0.8M1370.11 430.3v-1.14M1370.79 430.3v-0.84M1371.56 430.3v-2.17M1372.11 430.3v-1.93M1372.84 430.3v-1.35M1373.94 430.3v-1.44M1374.56 430.3v-3.27M1375.42 430.3v-6.09M1377.23 430.3v-1.59M1380.69 430.3v-2.3M1382.16 430.3v-0.9M1382.96 430.3v-1.13M1383.97 430.3v-1.32M1385.02 430.3v-0.89M1385.51 430.3v-0.82M1386.47 430.3v-1.11M1386.95 430.3v-0.9M1387.63 430.3v-1.79M1388.89 430.3v-3.11M1389.72 430.3v-1.53M1390.47 430.3v-1.5M1393.77 430.3v-1.9M1394.74 430.3v-2.96M1397.39 430.3v-1.62M1398.17 430.3v-0.71M1398.78 430.3v-0.99M1399.63 430.3v-2.55M1400.67 430.3v-0.63M1401.62 430.3v-0.95M1402.6 430.3v-0.72M1403.13 430.3v-1.39M1404.08 430.3v-1.93M1404.63 430.3v-0.79M1406.1 430.3v-1.55M1407.11 430.3v-1.26M1407.79 430.3v-1.92M1409.91 430.3v-1.89M1410.53 430.3v-1.26M1411.57 430.3v-2.32M1412.31 430.3v-1.04M1413.32 430.3v-0.91M1414.17 430.3v-3.09M1415.2 430.3v-0.94M1415.77 430.3v-0.64M1416.29 430.3v-0.72M1417.1 430.3v-0.64M1418.7 430.3v-1.52M1420.41 430.3v-0.96M1421.14 430.3v-1.9M1422.36 430.3v-3.79M1423.12 430.3v-0.74M1423.96 430.3v-1.09M1424.59 430.3v-1.17M1425.27 430.3v-3.91M1427.17 430.3v-0.85M1429.21 430.3v-1.25M1431.85 430.3v-1.14M1436.7 430.3v-1.55M1439.36 430.3v-3.5M1439.97 430.3v-0.9M1441.35 430.3v-0.61M1442.33 430.3v-0.9M1443.65 430.3v-0.86M1445.18 430.3v-2.52M1445.69 430.3v-0.64M1447.04 430.3v-0.86M1447.75 430.3v-1.97M1450.65 430.3v-0.67M1451.67 430.3v-1.17M1452.3 430.3v-1.72M1454.17 430.3v-0.75" stroke="#1f1f1f" stroke-width="1" fill="none"/>
<path d="M890 431.3L890 429.98L890.8 429.85L891.6 429.97L892.4 429.9L893.2 429.78L894 429.82L894.8 429.88L895.6 429.88L896.4 429.88L897.2 429.95L898 429.92L898.8 429.95L899.6 429.9L900.4 429.85L901.2 429.82L902 429.77L902.8 429.92L903.6 429.98L904.4 429.93L905.2 429.98L906 429.81L906.8 429.74L907.6 429.84L908.4 429.8L909.2 429.85L910 429.85L910.8 429.76L911.6 429.76L912.4 429.88L913.2 429.95L914 429.82L914.8 429.67L915.6 429.66L916.4 429.68L917.2 429.69L918 429.7L918.8 429.62L919.6 429.65L920.4 429.7L921.2 429.78L922 429.77L922.8 429.73L923.6 429.69L924.4 429.84L925.2 429.79L926 429.57L926.8 429.64L927.6 429.55L928.4 429.55L929.2 429.42L930 429.51L930.8 429.72L931.6 429.64L932.4 429.46L933.2 429.36L934 429.42L934.8 429.56L935.6 429.52L936.4 429.72L937.2 429.54L938 429.44L938.8 429.58L939.6 429.46L940.4 429.35L941.2 429.3L942 429.28L942.8 429.34L943.6 429.44L944.4 429.47L945.2 429.52L946 429.61L946.8 429.58L947.6 429.72L948.4 429.64L949.2 429.49L950 429.59L950.8 429.37L951.6 429.24L952.4 429.15L953.2 429.27L954 429.18L954.8 429.49L955.6 429.62L956.4 429.7L957.2 429.61L958 429.74L958.8 429.63L959.6 429.29L960.4 429.31L961.2 429.54L962 429.41L962.8 429.3L963.6 429.19L964.4 429.43L965.2 429.49L966 429.44L966.8 429.33L967.6 429.09L968.4 429.17L969.2 429.08L970 429.12L970.8 429.22L971.6 429.45L972.4 429.03L973.2 428.85L974 428.85L974.8 428.93L975.6 428.82L976.4 429.15L977.2 429.42L978 429.24L978.8 429.26L979.6 429.4L980.4 429.37L981.2 428.87L982 428.76L982.8 429.2L983.6 429.27L984.4 428.92L985.2 428.82L986 429.08L986.8 428.96L987.6 428.65L988.4 429.16L989.2 428.7L990 428.96L990.8 429.13L991.6 428.98L992.4 428.87L993.2 429.1L994 429.09L994.8 428.62L995.6 428.78L996.4 429.04L997.2 428.76L998 428.51L998.8 427.99L999.6 427.91L1000.4 427.84L1001.2 427.49L1002 427.61L1002.8 427.69L1003.6 427.65L1004.4 427.85L1005.2 427.44L1006 427.58L1006.8 426.79L1007.6 426.85L1008.4 426.22L1009.2 427.23L1010 426.53L1010.8 427.14L1011.6 426.72L1012.4 426.78L1013.2 427.56L1014 426.18L1014.8 425.97L1015.6 426.47L1016.4 426.05L1017.2 425.15L1018 426.49L1018.8 426.71L1019.6 425.48L1020.4 424.44L1021.2 424.21L1022 425.43L1022.8 426.14L1023.6 426.76L1024.4 427.2L1025.2 427.22L1026 426.41L1026.8 425.46L1027.6 426.78L1028.4 426.85L1029.2 425.28L1030 424.53L1030.8 425.52L1031.6 424.08L1032.4 425.47L1033.2 426.18L1034 425.99L1034.8 425.61L1035.6 424.03L1036.4 425.34L1037.2 424.15L1038 424.29L1038.8 423.46L1039.6 423.19L1040.4 422.81L1041.2 423.48L1042 423.76L1042.8 424.38L1043.6 425.03L1044.4 424.42L1045.2 425.71L1046 426.12L1046.8 423.99L1047.6 424.58L1048.4 424.79L1049.2 424.36L1050 425.02L1050.8 425.64L1051.6 424.41L1052.4 424.85L1053.2 423.46L1054 423.89L1054.8 424.67L1055.6 424.96L1056.4 424.22L1057.2 425.63L1058 423.66L1058.8 425.1L1059.6 424.09L1060.4 425.78L1061.2 424.72L1062 425.5L1062.8 424.07L1063.6 424.28L1064.4 422.55L1065.2 424.2L1066 422.48L1066.8 422.23L1067.6 423.27L1068.4 422.45L1069.2 423.3L1070 423.95L1070.8 422.87L1071.6 422.03L1072.4 423.08L1073.2 422.46L1074 424.27L1074.8 422.42L1075.6 421.17L1076.4 420.48L1077.2 422.32L1078 422.04L1078.8 422.05L1079.6 424.03L1080.4 425.3L1081.2 423.88L1082 422.01L1082.8 422.14L1083.6 422.62L1084.4 421.58L1085.2 423.8L1086 422.42L1086.8 424.7L1087.6 423.74L1088.4 425.12L1089.2 424.51L1090 425.3L1090.8 424.51L1091.6 425.26L1092.4 425.14L1093.2 426.43L1094 425.28L1094.8 426.07L1095.6 425.16L1096.4 426L1097.2 426.82L1098 427.01L1098.8 426.09L1099.6 426.95L1100.4 426.59L1101.2 426.91L1102 426.36L1102.8 424.92L1103.6 425.29L1104.4 423.23L1105.2 423.73L1106 423.25L1106.8 422.32L1107.6 420.99L1108.4 420.85L1109.2 422.84L1110 420.06L1110.8 419.48L1111.6 421.2L1112.4 419.24L1113.2 421.99L1114 419.14L1114.8 419.74L1115.6 417.32L1116.4 420.12L1117.2 417.47L1118 417.49L1118.8 420.66L1119.6 417.96L1120.4 419.86L1121.2 414.37L1122 416.19L1122.8 417.96L1123.6 416.76L1124.4 413.87L1125.2 413.2L1126 410.68L1126.8 409.58L1127.6 404.84L1128.4 405.98L1129.2 409.42L1130 403.57L1130.8 406.41L1131.6 409.95L1132.4 415.1L1133.2 422.39L1134 426.07L1134.8 428.04L1135.6 428.79L1136.4 429.39L1137.2 429.57L1138 429.66L1138.8 429.75L1139.6 429.81L1140.4 429.31L1141.2 428.51L1142 428.35L1142.8 428.26L1143.6 427.97L1144.4 427.92L1145.2 428.02L1146 427.24L1146.8 427.16L1147.6 426.59L1148.4 427.52L1149.2 427.05L1150 427.06L1150.8 427.51L1151.6 427.41L1152.4 426.89L1153.2 427.02L1154 427.58L1154.8 427.76L1155.6 426.96L1156.4 427.76L1157.2 428.09L1158 427.27L1158.8 426.94L1159.6 426.34L1160.4 426.77L1161.2 427.18L1162 426.17L1162.8 426.91L1163.6 426.5L1164.4 427.45L1165.2 427.28L1166 427.06L1166.8 426.84L1167.6 427.67L1168.4 426.42L1169.2 425.51L1170 425.49L1170.8 425.28L1171.6 424.92L1172.4 424.58L1173.2 424.64L1174 425.59L1174.8 426.78L1175.6 426.73L1176.4 427.42L1177.2 426.69L1178 425.31L1178.8 424.65L1179.6 425.92L1180.4 425.47L1181.2 426.17L1182 425.18L1182.8 426.22L1183.6 426.93L1184.4 426.1L1185.2 424.6L1186 425.21L1186.8 425.33L1187.6 424.44L1188.4 424.66L1189.2 424.39L1190 424.69L1190.8 425.33L1191.6 425.4L1192.4 425.23L1193.2 426.21L1194 426.35L1194.8 426.71L1195.6 425.39L1196.4 425.32L1197.2 424.85L1198 425.2L1198.8 424.33L1199.6 423.73L1200.4 425.54L1201.2 426.53L1202 424.66L1202.8 425.57L1203.6 423.71L1204.4 424.76L1205.2 425.45L1206 426.5L1206.8 425.42L1207.6 424.83L1208.4 426.17L1209.2 424.78L1210 426.15L1210.8 425.55L1211.6 423.93L1212.4 425.77L1213.2 424.15L1214 423.68L1214.8 424.8L1215.6 424.44L1216.4 425.65L1217.2 424.65L1218 423.28L1218.8 424.54L1219.6 426.12L1220.4 426.91L1221.2 426.26L1222 425.06L1222.8 423.43L1223.6 422.89L1224.4 422.86L1225.2 423.47L1226 423.43L1226.8 423.71L1227.6 425.37L1228.4 424.17L1229.2 424.83L1230 425.86L1230.8 423.91L1231.6 423.42L1232.4 425.32L1233.2 424.98L1234 426.3L1234.8 424.6L1235.6 425.21L1236.4 425.16L1237.2 424.4L1238 423.91L1238.8 425.73L1239.6 424.96L1240.4 425.03L1241.2 424.8L1242 421.77L1242.8 420.4L1243.6 418.78L1244.4 420.82L1245.2 421.89L1246 422.7L1246.8 424.01L1247.6 425.09L1248.4 425.02L1249.2 426.5L1250 427.49L1250.8 427.5L1251.6 427.61L1252.4 427.44L1253.2 428.03L1254 427.5L1254.8 428.21L1255.6 428.25L1256.4 428.42L1257.2 428.7L1258 428.75L1258.8 428.62L1259.6 428.75L1260.4 428.84L1261.2 428.29L1262 428.51L1262.8 427.95L1263.6 428.31L1264.4 428.82L1265.2 428.94L1266 428.27L1266.8 428.25L1267.6 427.87L1268.4 428.21L1269.2 428.48L1270 428.55L1270.8 428.55L1271.6 428.26L1272.4 427.91L1273.2 428L1274 427.96L1274.8 428.41L1275.6 428.51L1276.4 429.01L1277.2 428.42L1278 428.12L1278.8 428.16L1279.6 428.54L1280.4 428.73L1281.2 428.61L1282 428.78L1282.8 428.75L1283.6 428.99L1284.4 428.57L1285.2 428.28L1286 428.34L1286.8 428.21L1287.6 428.12L1288.4 428.46L1289.2 429.01L1290 428.75L1290.8 428.84L1291.6 428.96L1292.4 429.1L1293.2 428.93L1294 428.63L1294.8 428.9L1295.6 428.85L1296.4 428.93L1297.2 428.69L1298 428.82L1298.8 428.56L1299.6 429.09L1300.4 428.72L1301.2 428.99L1302 428.8L1302.8 428.95L1303.6 429.14L1304.4 428.81L1305.2 428.84L1306 429.17L1306.8 429.02L1307.6 429.02L1308.4 428.7L1309.2 428.86L1310 428.89L1310.8 428.85L1311.6 429.29L1312.4 429.21L1313.2 428.84L1314 428.94L1314.8 429.17L1315.6 429.29L1316.4 429.31L1317.2 429.22L1318 429.3L1318.8 429.18L1319.6 429.36L1320.4 429.5L1321.2 429.59L1322 429.41L1322.8 429.48L1323.6 429.44L1324.4 429.48L1325.2 429.38L1326 429.14L1326.8 429.45L1327.6 429.42L1328.4 429.06L1329.2 429.39L1330 428.99L1330.8 429.32L1331.6 429.35L1332.4 428.99L1333.2 428.91L1334 429.2L1334.8 429.22L1335.6 429.3L1336.4 429.2L1337.2 429.48L1338 429.18L1338.8 429.23L1339.6 429L1340.4 429.33L1341.2 429.47L1342 429.15L1342.8 429.08L1343.6 429.22L1344.4 429.13L1345.2 429.45L1346 429.49L1346.8 429.56L1347.6 429.13L1348.4 428.96L1349.2 428.87L1350 428.99L1350.8 428.84L1351.6 429.17L1352.4 429.33L1353.2 429.09L1354 429L1354.8 428.98L1355.6 429.02L1356.4 429.06L1357.2 429.44L1358 429.48L1358.8 429.47L1359.6 429.2L1360.4 429.37L1361.2 429.28L1362 429.21L1362.8 429.3L1363.6 429.37L1364.4 429.45L1365.2 429.43L1366 429.38L1366.8 429.53L1367.6 429.27L1368.4 429.44L1369.2 429.45L1370 429.64L1370.8 429.61L1371.6 429.4L1372.4 429.34L1373.2 429.19L1374 429.21L1374.8 429.38L1375.6 429.15L1376.4 429.12L1377.2 429.14L1378 429.07L1378.8 429.1L1379.6 429.28L1380.4 429.11L1381.2 429.28L1382 429.4L1382.8 429.56L1383.6 429.64L1384.4 429.54L1385.2 429.38L1386 429.46L1386.8 429.34L1387.6 429.53L1388.4 429.72L1389.2 429.36L1390 429.56L1390.8 429.48L1391.6 429.53L1392.4 429.61L1393.2 429.73L1394 429.54L1394.8 429.51L1395.6 429.58L1396.4 429.48L1397.2 429.31L1398 429.48L1398.8 429.43L1399.6 429.36L1400.4 429.61L1401.2 429.47L1402 429.4L1402.8 429.34L1403.6 429.63L1404.4 429.4L1405.2 429.45L1406 429.51L1406.8 429.52L1407.6 429.4L1408.4 429.6L1409.2 429.73L1410 429.83L1410.8 429.76L1411.6 429.86L1412.4 429.67L1413.2 429.73L1414 429.6L1414.8 429.68L1415.6 429.74L1416.4 429.73L1417.2 429.83L1418 429.72L1418.8 429.79L1419.6 429.7L1420.4 429.79L1421.2 429.83L1422 429.7L1422.8 429.56L1423.6 429.56L1424.4 429.74L1425.2 429.7L1426 429.59L1426.8 429.56L1427.6 429.49L1428.4 429.49L1429.2 429.43L1430 429.65L1430.8 429.68L1431.6 429.67L1432.4 429.84L1433.2 429.92L1434 429.91L1434.8 429.87L1435.6 429.68L1436.4 429.78L1437.2 429.71L1438 429.72L1438.8 429.61L1439.6 429.79L1440.4 429.87L1441.2 429.91L1442 429.89L1442.8 429.87L1443.6 429.87L1444.4 429.84L1445.2 429.91L1446 429.97L1446.8 429.96L1447.6 429.77L1448.4 429.74L1449.2 429.71L1450 429.65L1450.8 429.67L1451.6 429.83L1452.4 429.8L1453.2 429.81L1454 429.72L1454.8 429.67L1455 431.3Z" fill="#1f1f1f"/>
<path d="M897.7 431.2V426.1M934 431.2V424M950.7 431.2V411.2M957.8 431.2V397.3M964.3 431.2V351.3M975 431.2V418M985.2 431.2V375.5M990.7 431.2V415M1008.4 431.2V388.9M1017.7 431.2V413M1023.3 431.2V411M1028.9 431.2V366.2M1031.7 431.2V415M1059.6 431.2V371.2M1073 431.2V335.3M1074.5 431.2V350M1080.7 431.2V121.6M1085.7 431.2V397.3M1089.4 431.2V402M1094 431.2V402M1097.7 431.2V402M1102.4 431.2V342.5M1100 431.2V398M1108.6 431.2V396.5M1112.2 431.2V406.2M1117.6 431.2V384.7M1119.9 431.2V380.6M1123.5 431.2V335.6M1125 431.2V367.9M1127.6 431.2V278.6M1128.9 431.2V300M1132.2 431.2V214.6M1139.1 431.2V420M1149.6 431.2V418M1152.6 431.2V410M1156.2 431.2V415M1144.7 431.2V342M1150 431.2V408M1157 431.2V412M1168.6 431.2V360.9M1180 431.2V410M1188.9 431.2V395.3M1198 431.2V176.2M1200 431.2V404M1212.6 431.2V397.2M1226.1 431.2V389.7M1241.8 431.2V130.9M1261.8 431.2V392.5M1270.2 431.2V384.2M1272 431.2V410M1284.5 431.2V283.7M1306.5 431.2V318.1M1313.2 431.2V333M1349 431.2V420M1355.8 431.2V386M1399.1 431.2V387M1449.7 431.2V418.6" stroke="#333" stroke-width="1.3" fill="none"/>
<path d="M1131.2 431.2V330M1240.6 431.2V406M1285.6 431.2V350" stroke="#1e1e1e" stroke-width="2.2" fill="none"/>
<path d="M1391.8 431.2V392" stroke="#9a9a9a" stroke-width="1.2" stroke-dasharray="5 3" fill="none"/>
<path d="M884.8 110.9V434.4M882.6 432.2H1457.5" stroke="#231f20" stroke-width="4.4" fill="none"/>
<text x="832.2" y="119.55" font-size="20.5" font-weight="400" fill="#231f20" text-anchor="start" font-family="&quot;Liberation Sans&quot;, Arial, Helvetica, sans-serif" >100</text>
<text x="843.66" y="198.55" font-size="20.5" font-weight="400" fill="#231f20" text-anchor="start" font-family="&quot;Liberation Sans&quot;, Arial, Helvetica, sans-serif" >75</text>
<text x="843.6" y="278.25" font-size="20.5" font-weight="400" fill="#231f20" text-anchor="start" font-family="&quot;Liberation Sans&quot;, Arial, Helvetica, sans-serif" >50</text>
<text x="843.66" y="357.75" font-size="20.5" font-weight="400" fill="#231f20" text-anchor="start" font-family="&quot;Liberation Sans&quot;, Arial, Helvetica, sans-serif" >25</text>
<text x="855" y="438.55" font-size="20.5" font-weight="400" fill="#231f20" text-anchor="start" font-family="&quot;Liberation Sans&quot;, Arial, Helvetica, sans-serif" >0</text>
<text x="866.71" y="466.9" font-size="21.3" font-weight="400" fill="#231f20" text-anchor="start" font-family="&quot;Liberation Sans&quot;, Arial, Helvetica, sans-serif" >200</text>
<text x="942.2" y="466.9" font-size="21.3" font-weight="400" fill="#231f20" text-anchor="start" font-family="&quot;Liberation Sans&quot;, Arial, Helvetica, sans-serif" >400</text>
<text x="1019.31" y="466.9" font-size="21.3" font-weight="400" fill="#231f20" text-anchor="start" font-family="&quot;Liberation Sans&quot;, Arial, Helvetica, sans-serif" >600</text>
<text x="1094.18" y="466.9" font-size="21.3" font-weight="400" fill="#231f20" text-anchor="start" font-family="&quot;Liberation Sans&quot;, Arial, Helvetica, sans-serif" >800</text>
<text x="1164.31" y="466.9" font-size="21.3" font-weight="400" fill="#231f20" text-anchor="start" font-family="&quot;Liberation Sans&quot;, Arial, Helvetica, sans-serif" >1000</text>
<text x="1240.51" y="466.9" font-size="21.3" font-weight="400" fill="#231f20" text-anchor="start" font-family="&quot;Liberation Sans&quot;, Arial, Helvetica, sans-serif" >1200</text>
<text x="1317.71" y="466.9" font-size="21.3" font-weight="400" fill="#231f20" text-anchor="start" font-family="&quot;Liberation Sans&quot;, Arial, Helvetica, sans-serif" >1400</text>
<text x="1392.51" y="466.9" font-size="21.3" font-weight="400" fill="#231f20" text-anchor="start" font-family="&quot;Liberation Sans&quot;, Arial, Helvetica, sans-serif" >1600</text>
<path d="M869.8 113.1H884.8M869.8 192.1H884.8M869.8 271.8H884.8M869.8 351.3H884.8M869.8 432.1H884.8M884.6 432.2V445.6M959.8 432.2V445.6M1037.2 432.2V445.6M1112 432.2V445.6M1188.4 432.2V445.6M1264.6 432.2V445.6M1341.8 432.2V445.6M1416.6 432.2V445.6M1455.3 432.2V445.6" stroke="#231f20" stroke-width="4.4" fill="none"/>
<text x="1090.09" y="500.2" font-size="25" font-weight="700" fill="#231f20" text-anchor="start" font-family="&quot;Liberation Sans&quot;, Arial, Helvetica, sans-serif" >m/z</text>
<text transform="translate(832.6 278.5) rotate(-90)" x="0" y="0" text-anchor="middle" font-size="25" font-weight="700" fill="#231f20" font-family="&quot;Liberation Sans&quot;, Arial, Helvetica, sans-serif">Relative abundance</text>
<text x="1072.85" y="107.8" font-size="20" font-weight="400" fill="#3a3a3a" font-family="&quot;Liberation Sans&quot;, Arial, Helvetica, sans-serif">y<tspan font-size="13.8" dx="0.9" dy="5.8">12</tspan></text>
<text x="1077.29" y="118.8" font-size="14.5" font-weight="400" fill="#3a3a3a" text-anchor="start" font-family="&quot;Liberation Sans&quot;, Arial, Helvetica, sans-serif" >++</text>
<text x="1238.25" y="114.2" font-size="20" font-weight="400" fill="#3a3a3a" font-family="&quot;Liberation Sans&quot;, Arial, Helvetica, sans-serif">y<tspan font-size="13.8" dx="0.9" dy="5.8">9</tspan></text>
<text x="1194.35" y="161.4" font-size="20" font-weight="400" fill="#3a3a3a" font-family="&quot;Liberation Sans&quot;, Arial, Helvetica, sans-serif">y<tspan font-size="13.8" dx="0.9" dy="5.8">8</tspan></text>
<text x="953.11" y="321.9" font-size="20" font-weight="400" fill="#3a3a3a" font-family="&quot;Liberation Sans&quot;, Arial, Helvetica, sans-serif">b<tspan font-size="13.8" dx="0.9" dy="5.8">3</tspan><tspan font-size="13.8" dy="-11.2">CML</tspan></text>
<text x="956.25" y="343.2" font-size="20" font-weight="400" fill="#3a3a3a" font-family="&quot;Liberation Sans&quot;, Arial, Helvetica, sans-serif">y<tspan font-size="13.8" dx="0.9" dy="5.8">3</tspan></text>
<text x="974.51" y="364.7" font-size="20" font-weight="400" fill="#3a3a3a" font-family="&quot;Liberation Sans&quot;, Arial, Helvetica, sans-serif">b<tspan font-size="13.8" dx="0.9" dy="5.8">4</tspan><tspan font-size="13.8" dy="-11.2">CML</tspan></text>
<text x="1004.75" y="370.4" font-size="20" font-weight="400" fill="#3a3a3a" font-family="&quot;Liberation Sans&quot;, Arial, Helvetica, sans-serif">y<tspan font-size="13.8" dx="0.9" dy="5.8">4</tspan></text>
<text x="1003.01" y="388.9" font-size="20" font-weight="400" fill="#3a3a3a" font-family="&quot;Liberation Sans&quot;, Arial, Helvetica, sans-serif">b<tspan font-size="13.8" dx="0.9" dy="5.8">9</tspan><tspan font-size="13.8" dy="-11.2">CML</tspan></text>
<text x="1020.79" y="402.7" font-size="14.5" font-weight="400" fill="#3a3a3a" text-anchor="start" font-family="&quot;Liberation Sans&quot;, Arial, Helvetica, sans-serif" >++</text>
<text x="1027.95" y="348" font-size="20" font-weight="400" fill="#3a3a3a" font-family="&quot;Liberation Sans&quot;, Arial, Helvetica, sans-serif">y<tspan font-size="13.8" dx="0.9" dy="5.8">9</tspan></text>
<text x="1027.29" y="361.2" font-size="14.5" font-weight="400" fill="#3a3a3a" text-anchor="start" font-family="&quot;Liberation Sans&quot;, Arial, Helvetica, sans-serif" >++</text>
<text x="1023.51" y="331.2" font-size="20" font-weight="400" fill="#3a3a3a" font-family="&quot;Liberation Sans&quot;, Arial, Helvetica, sans-serif">b<tspan font-size="13.8" dx="0.9" dy="5.8">5</tspan><tspan font-size="13.8" dy="-11.2">CML</tspan></text>
<text x="1053.05" y="352.6" font-size="20" font-weight="400" fill="#3a3a3a" font-family="&quot;Liberation Sans&quot;, Arial, Helvetica, sans-serif">y<tspan font-size="13.8" dx="0.9" dy="5.8">11</tspan></text>
<text x="1057.99" y="367.7" font-size="14.5" font-weight="400" fill="#3a3a3a" text-anchor="start" font-family="&quot;Liberation Sans&quot;, Arial, Helvetica, sans-serif" >++</text>
<text x="1049.21" y="307" font-size="20" font-weight="400" fill="#3a3a3a" font-family="&quot;Liberation Sans&quot;, Arial, Helvetica, sans-serif">b<tspan font-size="13.8" dx="0.9" dy="5.8">6</tspan><tspan font-size="13.8" dy="-11.2">CML</tspan></text>
<text x="1099.15" y="302.4" font-size="20" font-weight="400" fill="#3a3a3a" font-family="&quot;Liberation Sans&quot;, Arial, Helvetica, sans-serif">y<tspan font-size="13.8" dx="0.9" dy="5.8">6</tspan></text>
<text x="1085.81" y="322.7" font-size="20" font-weight="400" fill="#3a3a3a" font-family="&quot;Liberation Sans&quot;, Arial, Helvetica, sans-serif">b<tspan font-size="13.8" dx="0.9" dy="5.8">13</tspan><tspan font-size="13.8" dy="-11.2">CML</tspan></text>
<text x="1108.19" y="337.2" font-size="14.5" font-weight="400" fill="#3a3a3a" text-anchor="start" font-family="&quot;Liberation Sans&quot;, Arial, Helvetica, sans-serif" >++</text>
<text x="1139.05" y="325.6" font-size="20" font-weight="400" fill="#3a3a3a" font-family="&quot;Liberation Sans&quot;, Arial, Helvetica, sans-serif">y<tspan font-size="13.8" dx="0.9" dy="5.8">7</tspan></text>
<text x="1159.61" y="348" font-size="20" font-weight="400" fill="#3a3a3a" font-family="&quot;Liberation Sans&quot;, Arial, Helvetica, sans-serif">b<tspan font-size="13.8" dx="0.9" dy="5.8">8</tspan><tspan font-size="13.8" dy="-11.2">CML</tspan></text>
<text x="1275.15" y="270.5" font-size="20" font-weight="400" fill="#3a3a3a" font-family="&quot;Liberation Sans&quot;, Arial, Helvetica, sans-serif">y<tspan font-size="13.8" dx="0.9" dy="5.8">10</tspan></text>
<text x="1300.51" y="281.8" font-size="20" font-weight="400" fill="#3a3a3a" font-family="&quot;Liberation Sans&quot;, Arial, Helvetica, sans-serif">b<tspan font-size="13.8" dx="0.9" dy="5.8">11</tspan><tspan font-size="13.8" dy="-11.2">CML</tspan></text>
<text x="1301.75" y="306.5" font-size="20" font-weight="400" fill="#3a3a3a" font-family="&quot;Liberation Sans&quot;, Arial, Helvetica, sans-serif">y<tspan font-size="13.8" dx="0.9" dy="5.8">11</tspan></text>
<text x="1254.01" y="372" font-size="20" font-weight="400" fill="#3a3a3a" font-family="&quot;Liberation Sans&quot;, Arial, Helvetica, sans-serif">b<tspan font-size="13.8" dx="0.9" dy="5.8">10</tspan><tspan font-size="13.8" dy="-11.2">CML</tspan></text>
<text x="1345.15" y="373.8" font-size="20" font-weight="400" fill="#3a3a3a" font-family="&quot;Liberation Sans&quot;, Arial, Helvetica, sans-serif">y<tspan font-size="13.8" dx="0.9" dy="5.8">12</tspan></text>
<text x="1390.15" y="348.7" font-size="20" font-weight="400" fill="#3a3a3a" font-family="&quot;Liberation Sans&quot;, Arial, Helvetica, sans-serif">y<tspan font-size="13.8" dx="0.9" dy="5.8">13</tspan></text>
<text x="1391.71" y="380.4" font-size="20" font-weight="400" fill="#3a3a3a" font-family="&quot;Liberation Sans&quot;, Arial, Helvetica, sans-serif">b<tspan font-size="13.8" dx="0.9" dy="5.8">13</tspan><tspan font-size="13.8" dy="-11.2">CML</tspan></text>
<text x="1239.55" y="175.1" font-size="24.6" font-weight="700" fill="#1e1e1e" stroke="#1e1e1e" stroke-width="0.5" font-family="&quot;Liberation Sans&quot;, Arial, Helvetica, sans-serif" transform="translate(0 175.1) scale(1 1.05) translate(0 -175.1)">K</text>
<text x="1265.13" y="175.1" font-size="24.6" font-weight="700" fill="#1e1e1e" stroke="#1e1e1e" stroke-width="0.5" font-family="&quot;Liberation Sans&quot;, Arial, Helvetica, sans-serif" transform="translate(0 175.1) scale(1 1.05) translate(0 -175.1)">V</text>
<text x="1290.75" y="175.1" font-size="24.6" font-weight="700" fill="#1e1e1e" stroke="#1e1e1e" stroke-width="0.5" font-family="&quot;Liberation Sans&quot;, Arial, Helvetica, sans-serif" transform="translate(0 175.1) scale(1 1.05) translate(0 -175.1)">L</text>
<text x="1311.29" y="175.1" font-size="24.6" font-weight="700" fill="#1e1e1e" stroke="#1e1e1e" stroke-width="0.5" font-family="&quot;Liberation Sans&quot;, Arial, Helvetica, sans-serif" transform="translate(0 175.1) scale(1 1.05) translate(0 -175.1)">A</text>
<text x="1341.65" y="175.1" font-size="24.6" font-weight="700" fill="#1e1e1e" stroke="#1e1e1e" stroke-width="0.5" font-family="&quot;Liberation Sans&quot;, Arial, Helvetica, sans-serif" transform="translate(0 175.1) scale(1 1.05) translate(0 -175.1)">I</text>
<text x="1364.85" y="175.1" font-size="24.6" font-weight="700" fill="#1e1e1e" stroke="#1e1e1e" stroke-width="0.5" font-family="&quot;Liberation Sans&quot;, Arial, Helvetica, sans-serif" transform="translate(0 175.1) scale(1 1.05) translate(0 -175.1)">D</text>
<text x="1390.05" y="175.1" font-size="24.6" font-weight="700" fill="#1e1e1e" stroke="#1e1e1e" stroke-width="0.5" font-family="&quot;Liberation Sans&quot;, Arial, Helvetica, sans-serif" transform="translate(0 175.1) scale(1 1.05) translate(0 -175.1)">H</text>
<text x="1416.05" y="175.1" font-size="24.6" font-weight="700" fill="#1e1e1e" stroke="#1e1e1e" stroke-width="0.5" font-family="&quot;Liberation Sans&quot;, Arial, Helvetica, sans-serif" transform="translate(0 175.1) scale(1 1.05) translate(0 -175.1)">L</text>
<text x="1438.45" y="175.1" font-size="24.6" font-weight="700" fill="#1e1e1e" stroke="#1e1e1e" stroke-width="0.5" font-family="&quot;Liberation Sans&quot;, Arial, Helvetica, sans-serif" transform="translate(0 175.1) scale(1 1.05) translate(0 -175.1)">N</text>
<text x="1463.55" y="175.1" font-size="24.6" font-weight="700" fill="#1e1e1e" stroke="#1e1e1e" stroke-width="0.5" font-family="&quot;Liberation Sans&quot;, Arial, Helvetica, sans-serif" transform="translate(0 175.1) scale(1 1.05) translate(0 -175.1)">E</text>
<text x="1488.75" y="175.1" font-size="24.6" font-weight="700" fill="#1e1e1e" stroke="#1e1e1e" stroke-width="0.5" font-family="&quot;Liberation Sans&quot;, Arial, Helvetica, sans-serif" transform="translate(0 175.1) scale(1 1.05) translate(0 -175.1)">D</text>
<text x="1513.59" y="175.1" font-size="24.6" font-weight="700" fill="#1e1e1e" stroke="#1e1e1e" stroke-width="0.5" font-family="&quot;Liberation Sans&quot;, Arial, Helvetica, sans-serif" transform="translate(0 175.1) scale(1 1.05) translate(0 -175.1)">Q</text>
<text x="1541.75" y="175.1" font-size="24.6" font-weight="700" fill="#1e1e1e" stroke="#1e1e1e" stroke-width="0.5" font-family="&quot;Liberation Sans&quot;, Arial, Helvetica, sans-serif" transform="translate(0 175.1) scale(1 1.05) translate(0 -175.1)">L</text>
<text x="1563.15" y="175.1" font-size="24.6" font-weight="700" fill="#1e1e1e" stroke="#1e1e1e" stroke-width="0.5" font-family="&quot;Liberation Sans&quot;, Arial, Helvetica, sans-serif" transform="translate(0 175.1) scale(1 1.05) translate(0 -175.1)">R</text>
<path d="M1290.6 141.3H1308.2V161.7M1318.3 141.3H1334.9V161.7M1340.5 141.3H1358.2V161.7M1367.5 141.3H1385.2V161.7M1417.7 141.3H1434.5V161.7M1442.9 141.3H1459.6V161.7M1467.1 141.3H1483.8V161.7M1493.2 141.3H1510.8V161.7M1543.4 141.3H1561.1V161.7M1261 169.2V190.6H1278.6M1286 169.2V190.6H1303.5M1308.2 169.2V190.6H1326.4M1334.9 169.2V190.6H1352.6M1359.1 169.2V190.6H1375.9M1387 169.2V190.6H1402.9M1411.2 169.2V190.6H1428M1435.4 169.2V190.6H1452.2M1483.8 169.2V190.6H1500.6M1509.9 169.2V190.6H1526.7" stroke="#1e1e1e" stroke-width="3" fill="none" stroke-linecap="butt" stroke-linejoin="miter"/>
<path d="M1239.7 179H1257.3" stroke="#1e1e1e" stroke-width="2.6"/>
<text x="1284.68" y="128.8" font-size="20" font-weight="700" fill="#1e1e1e" font-family="&quot;Liberation Sans&quot;, Arial, Helvetica, sans-serif">b<tspan font-size="14" dx="0" dy="4.5">3</tspan></text>
<text x="1312.38" y="128.8" font-size="20" font-weight="700" fill="#1e1e1e" font-family="&quot;Liberation Sans&quot;, Arial, Helvetica, sans-serif">b<tspan font-size="14" dx="0" dy="4.5">4</tspan></text>
<text x="1337.28" y="128.8" font-size="20" font-weight="700" fill="#1e1e1e" font-family="&quot;Liberation Sans&quot;, Arial, Helvetica, sans-serif">b<tspan font-size="14" dx="0" dy="4.5">5</tspan></text>
<text x="1366.18" y="128.8" font-size="20" font-weight="700" fill="#1e1e1e" font-family="&quot;Liberation Sans&quot;, Arial, Helvetica, sans-serif">b<tspan font-size="14" dx="0" dy="4.5">6</tspan></text>
<text x="1413.68" y="128.8" font-size="20" font-weight="700" fill="#1e1e1e" font-family="&quot;Liberation Sans&quot;, Arial, Helvetica, sans-serif">b<tspan font-size="14" dx="0" dy="4.5">8</tspan></text>
<text x="1435.08" y="128.8" font-size="20" font-weight="700" fill="#1e1e1e" font-family="&quot;Liberation Sans&quot;, Arial, Helvetica, sans-serif">b<tspan font-size="14" dx="0" dy="4.5">9</tspan></text>
<text x="1456.48" y="128.8" font-size="20" font-weight="700" fill="#1e1e1e" font-family="&quot;Liberation Sans&quot;, Arial, Helvetica, sans-serif">b<tspan font-size="14" dx="0" dy="4.5">10</tspan></text>
<text x="1484.38" y="128.8" font-size="20" font-weight="700" fill="#1e1e1e" font-family="&quot;Liberation Sans&quot;, Arial, Helvetica, sans-serif">b<tspan font-size="14" dx="0" dy="4.5">11</tspan></text>
<text x="1543.98" y="128.8" font-size="20" font-weight="700" fill="#1e1e1e" font-family="&quot;Liberation Sans&quot;, Arial, Helvetica, sans-serif">b<tspan font-size="14" dx="0" dy="4.5">13</tspan></text>
<text x="1248.68" y="212.3" font-size="19" font-weight="700" fill="#1e1e1e" font-family="&quot;Liberation Sans&quot;, Arial, Helvetica, sans-serif" transform="translate(0 212.3) scale(1 1.07) translate(0 -212.3)">Y<tspan font-size="14" dx="0" dy="0.7">13</tspan></text>
<text x="1280.08" y="212.3" font-size="19" font-weight="700" fill="#1e1e1e" font-family="&quot;Liberation Sans&quot;, Arial, Helvetica, sans-serif" transform="translate(0 212.3) scale(1 1.07) translate(0 -212.3)">Y<tspan font-size="14" dx="0" dy="0.7">12</tspan></text>
<text x="1308.78" y="212.3" font-size="19" font-weight="700" fill="#1e1e1e" font-family="&quot;Liberation Sans&quot;, Arial, Helvetica, sans-serif" transform="translate(0 212.3) scale(1 1.07) translate(0 -212.3)">Y<tspan font-size="14" dx="0" dy="0.7">11</tspan></text>
<text x="1336.48" y="212.3" font-size="19" font-weight="700" fill="#1e1e1e" font-family="&quot;Liberation Sans&quot;, Arial, Helvetica, sans-serif" transform="translate(0 212.3) scale(1 1.07) translate(0 -212.3)">Y<tspan font-size="14" dx="0" dy="0.7">10</tspan></text>
<text x="1364.38" y="212.3" font-size="19" font-weight="700" fill="#1e1e1e" font-family="&quot;Liberation Sans&quot;, Arial, Helvetica, sans-serif" transform="translate(0 212.3) scale(1 1.07) translate(0 -212.3)">Y<tspan font-size="14" dx="0" dy="0.7">9</tspan></text>
<text x="1389.48" y="212.3" font-size="19" font-weight="700" fill="#1e1e1e" font-family="&quot;Liberation Sans&quot;, Arial, Helvetica, sans-serif" transform="translate(0 212.3) scale(1 1.07) translate(0 -212.3)">Y<tspan font-size="14" dx="0" dy="0.7">8</tspan></text>
<text x="1413.68" y="212.3" font-size="19" font-weight="700" fill="#1e1e1e" font-family="&quot;Liberation Sans&quot;, Arial, Helvetica, sans-serif" transform="translate(0 212.3) scale(1 1.07) translate(0 -212.3)">Y<tspan font-size="14" dx="0" dy="0.7">7</tspan></text>
<text x="1437.88" y="212.3" font-size="19" font-weight="700" fill="#1e1e1e" font-family="&quot;Liberation Sans&quot;, Arial, Helvetica, sans-serif" transform="translate(0 212.3) scale(1 1.07) translate(0 -212.3)">Y<tspan font-size="14" dx="0" dy="0.7">6</tspan></text>
<text x="1486.28" y="212.3" font-size="19" font-weight="700" fill="#1e1e1e" font-family="&quot;Liberation Sans&quot;, Arial, Helvetica, sans-serif" transform="translate(0 212.3) scale(1 1.07) translate(0 -212.3)">Y<tspan font-size="14" dx="0" dy="0.7">4</tspan></text>
<text x="1511.48" y="212.3" font-size="19" font-weight="700" fill="#1e1e1e" font-family="&quot;Liberation Sans&quot;, Arial, Helvetica, sans-serif" transform="translate(0 212.3) scale(1 1.07) translate(0 -212.3)">Y<tspan font-size="14" dx="0" dy="0.7">3</tspan></text>
<text x="1203.13" y="184.6" font-size="21.3" font-weight="400" fill="#1e1e1e" text-anchor="start" font-family="&quot;Liberation Sans&quot;, Arial, Helvetica, sans-serif" stroke="#1e1e1e" stroke-width="0.35">227</text>
<text x="1587.03" y="185.4" font-size="21.3" font-weight="400" fill="#1e1e1e" text-anchor="start" font-family="&quot;Liberation Sans&quot;, Arial, Helvetica, sans-serif" stroke="#1e1e1e" stroke-width="0.35">240</text>
<path d="M110.19 1005.7v-1.17M111.51 1005.7v-0.8M113.79 1005.7v-0.69M120.53 1005.7v-0.64M123.7 1005.7v-1.05M132.14 1005.7v-0.71M137.22 1005.7v-1.01M138.61 1005.7v-0.69M142.16 1005.7v-1.65M147.42 1005.7v-0.87M150.36 1005.7v-0.64M151.4 1005.7v-0.76M161.08 1005.7v-0.89M164.1 1005.7v-0.78M165.87 1005.7v-0.95M177.01 1005.7v-1.5M180.72 1005.7v-0.96M184.26 1005.7v-0.64M188.18 1005.7v-0.8M190.38 1005.7v-1.3M192.97 1005.7v-0.86M193.79 1005.7v-0.87M209.31 1005.7v-0.82M210.79 1005.7v-1.16M215.51 1005.7v-0.77M220.61 1005.7v-0.61M232.59 1005.7v-1.08M235.25 1005.7v-0.9M241.85 1005.7v-0.99M242.77 1005.7v-0.72M250.64 1005.7v-2.3M252.94 1005.7v-0.73M259.64 1005.7v-0.63M264.95 1005.7v-1.7M269.03 1005.7v-1.68M274.02 1005.7v-2.49M278.76 1005.7v-0.8M282.51 1005.7v-0.96M283.18 1005.7v-0.66M283.78 1005.7v-1.13M290.46 1005.7v-4.51M295.19 1005.7v-0.6M303.95 1005.7v-0.62M310.25 1005.7v-0.89M310.89 1005.7v-1.52M311.5 1005.7v-3.12M317.47 1005.7v-1.08M322.88 1005.7v-0.63M326.3 1005.7v-4.19M331.46 1005.7v-0.97M333.99 1005.7v-0.73M335.94 1005.7v-1.11M337.72 1005.7v-1.64M338.59 1005.7v-2.94M339.04 1005.7v-0.79M345.23 1005.7v-0.74M348.78 1005.7v-0.69M349.51 1005.7v-0.99M355.61 1005.7v-0.92M358.76 1005.7v-0.83M366.29 1005.7v-0.8M369.09 1005.7v-1.42M379.54 1005.7v-0.61M390.86 1005.7v-1.16M397.43 1005.7v-1.45M401.1 1005.7v-1.01M403.33 1005.7v-0.68M414.94 1005.7v-0.68M437.97 1005.7v-0.73M440.09 1005.7v-0.67M440.9 1005.7v-0.87M448.95 1005.7v-1.9M455.9 1005.7v-0.66M460.52 1005.7v-0.78M467.05 1005.7v-1.06M469.12 1005.7v-0.77M473.14 1005.7v-0.91M475.08 1005.7v-0.71M476.34 1005.7v-0.96M486.7 1005.7v-0.74M487.56 1005.7v-0.64M490.53 1005.7v-0.81M511.21 1005.7v-0.67M517.6 1005.7v-1.16M520.71 1005.7v-0.99M535.18 1005.7v-0.67M537.19 1005.7v-0.61M543.22 1005.7v-0.82M553.95 1005.7v-1.27M570.13 1005.7v-0.82M572.76 1005.7v-0.76M573.68 1005.7v-1.38M576.21 1005.7v-0.69M581 1005.7v-1.1M604.37 1005.7v-0.62M606.84 1005.7v-1.25M613.56 1005.7v-1.8M623.62 1005.7v-1.43M624.09 1005.7v-0.62M637.82 1005.7v-0.74M639.75 1005.7v-0.65" stroke="#1f1f1f" stroke-width="1" fill="none"/>
<path d="M139.3 1006.6V998.2M147.5 1006.6V997.5M191.1 1006.6V980.1M201 1006.6V1001M238.7 1006.6V994.2M250 1006.6V1003M258 1006.6V1003M270.8 1006.6V995.7M278.5 1006.6V1000M281 1006.6V1000M292.2 1006.6V994.5M301 1006.6V1000M304 1006.6V1000M308.3 1006.6V992.5M312.5 1006.6V695M330 1006.6V1003M332 1006.6V1000M334 1006.6V998M336 1006.6V996M339.6 1006.6V820.7M354.3 1006.6V993M394.6 1006.6V997M414.6 1006.6V975.4M448.4 1006.6V988.8M476.5 1006.6V971.3M495.3 1006.6V951.3M537.8 1006.6V901M589 1006.6V1002M590.7 1006.6V974.7M599.7 1006.6V964" stroke="#333" stroke-width="1.3" fill="none"/>
<path d="M478 1006.6V982M529.4 1006.6V990M538.5 1006.6V944" stroke="#1e1e1e" stroke-width="2.2" fill="none"/>
<path d="M309.3 1006.6V700" stroke="#9a9a9a" stroke-width="1.2" stroke-dasharray="5 3" fill="none"/>
<path d="M71.5 689.4V1009.8M69.3 1007.6H644.2" stroke="#231f20" stroke-width="4.4" fill="none"/>
<text x="18.9" y="698.05" font-size="20.5" font-weight="400" fill="#231f20" text-anchor="start" font-family="&quot;Liberation Sans&quot;, Arial, Helvetica, sans-serif" >100</text>
<text x="30.36" y="774.75" font-size="20.5" font-weight="400" fill="#231f20" text-anchor="start" font-family="&quot;Liberation Sans&quot;, Arial, Helvetica, sans-serif" >75</text>
<text x="30.3" y="854.35" font-size="20.5" font-weight="400" fill="#231f20" text-anchor="start" font-family="&quot;Liberation Sans&quot;, Arial, Helvetica, sans-serif" >50</text>
<text x="30.36" y="934.05" font-size="20.5" font-weight="400" fill="#231f20" text-anchor="start" font-family="&quot;Liberation Sans&quot;, Arial, Helvetica, sans-serif" >25</text>
<text x="41.7" y="1014.05" font-size="20.5" font-weight="400" fill="#231f20" text-anchor="start" font-family="&quot;Liberation Sans&quot;, Arial, Helvetica, sans-serif" >0</text>
<text x="101.21" y="1042" font-size="21.3" font-weight="400" fill="#231f20" text-anchor="start" font-family="&quot;Liberation Sans&quot;, Arial, Helvetica, sans-serif" >200</text>
<text x="195.4" y="1042" font-size="21.3" font-weight="400" fill="#231f20" text-anchor="start" font-family="&quot;Liberation Sans&quot;, Arial, Helvetica, sans-serif" >400</text>
<text x="292.61" y="1042" font-size="21.3" font-weight="400" fill="#231f20" text-anchor="start" font-family="&quot;Liberation Sans&quot;, Arial, Helvetica, sans-serif" >600</text>
<text x="388.18" y="1042" font-size="21.3" font-weight="400" fill="#231f20" text-anchor="start" font-family="&quot;Liberation Sans&quot;, Arial, Helvetica, sans-serif" >800</text>
<text x="476.71" y="1042" font-size="21.3" font-weight="400" fill="#231f20" text-anchor="start" font-family="&quot;Liberation Sans&quot;, Arial, Helvetica, sans-serif" >1000</text>
<text x="573.41" y="1042" font-size="21.3" font-weight="400" fill="#231f20" text-anchor="start" font-family="&quot;Liberation Sans&quot;, Arial, Helvetica, sans-serif" >1200</text>
<path d="M56 691.6H71.5M56 768.3H71.5M56 847.9H71.5M56 927.6H71.5M56 1007.6H71.5M71.5 1007.6V1021.5M119.1 1007.6V1021.5M213 1007.6V1021.5M310.5 1007.6V1021.5M406 1007.6V1021.5M500.8 1007.6V1021.5M597.5 1007.6V1021.5M642 1007.6V1021.5" stroke="#231f20" stroke-width="4.4" fill="none"/>
<text x="309.79" y="1074" font-size="25" font-weight="700" fill="#231f20" text-anchor="start" font-family="&quot;Liberation Sans&quot;, Arial, Helvetica, sans-serif" >m/z</text>
<text transform="translate(19.5 850.7) rotate(-90)" x="0" y="0" text-anchor="middle" font-size="25" font-weight="700" fill="#231f20" font-family="&quot;Liberation Sans&quot;, Arial, Helvetica, sans-serif">Relative abundance</text>
<text x="299.85" y="677.7" font-size="20" font-weight="400" fill="#3a3a3a" font-family="&quot;Liberation Sans&quot;, Arial, Helvetica, sans-serif">y<tspan font-size="13.8" dx="0.9" dy="5.8">10</tspan></text>
<text x="303.39" y="691.7" font-size="14.5" font-weight="400" fill="#3a3a3a" text-anchor="start" font-family="&quot;Liberation Sans&quot;, Arial, Helvetica, sans-serif" >++</text>
<text x="134.35" y="960.5" font-size="20" font-weight="400" fill="#3a3a3a" font-family="&quot;Liberation Sans&quot;, Arial, Helvetica, sans-serif">y<tspan font-size="13.8" dx="0.9" dy="5.8">2</tspan></text>
<text x="131.91" y="990" font-size="20" font-weight="400" fill="#3a3a3a" font-family="&quot;Liberation Sans&quot;, Arial, Helvetica, sans-serif">b<tspan font-size="13.8" dx="0.9" dy="5.8">2</tspan></text>
<text x="183.65" y="974.5" font-size="20" font-weight="400" fill="#3a3a3a" font-family="&quot;Liberation Sans&quot;, Arial, Helvetica, sans-serif">y<tspan font-size="13.8" dx="0.9" dy="5.8">3</tspan></text>
<text x="199.71" y="995" font-size="20" font-weight="400" fill="#3a3a3a" font-family="&quot;Liberation Sans&quot;, Arial, Helvetica, sans-serif">b<tspan font-size="13.8" dx="0.9" dy="5.8">3</tspan></text>
<text x="231.75" y="983" font-size="20" font-weight="400" fill="#3a3a3a" font-family="&quot;Liberation Sans&quot;, Arial, Helvetica, sans-serif">y<tspan font-size="13.8" dx="0.9" dy="5.8">4</tspan></text>
<text x="250.21" y="962.9" font-size="20" font-weight="400" fill="#3a3a3a" font-family="&quot;Liberation Sans&quot;, Arial, Helvetica, sans-serif">b<tspan font-size="13.8" dx="0.9" dy="5.8">8</tspan></text>
<text x="252.79" y="975.3" font-size="14.5" font-weight="400" fill="#3a3a3a" text-anchor="start" font-family="&quot;Liberation Sans&quot;, Arial, Helvetica, sans-serif" >++</text>
<text x="261.31" y="988.8" font-size="20" font-weight="400" fill="#3a3a3a" font-family="&quot;Liberation Sans&quot;, Arial, Helvetica, sans-serif">b<tspan font-size="13.8" dx="0.9" dy="5.8">4</tspan></text>
<text x="283.05" y="984.5" font-size="20" font-weight="400" fill="#3a3a3a" font-family="&quot;Liberation Sans&quot;, Arial, Helvetica, sans-serif">y<tspan font-size="13.8" dx="0.9" dy="5.8">5</tspan></text>
<text x="380.81" y="984.7" font-size="20" font-weight="400" fill="#3a3a3a" font-family="&quot;Liberation Sans&quot;, Arial, Helvetica, sans-serif">b<tspan font-size="13.8" dx="0.9" dy="5.8">6</tspan></text>
<text x="408.15" y="960.8" font-size="20" font-weight="400" fill="#3a3a3a" font-family="&quot;Liberation Sans&quot;, Arial, Helvetica, sans-serif">y<tspan font-size="13.8" dx="0.9" dy="5.8">7</tspan></text>
<text x="435.41" y="977.9" font-size="20" font-weight="400" fill="#3a3a3a" font-family="&quot;Liberation Sans&quot;, Arial, Helvetica, sans-serif">b<tspan font-size="13.8" dx="0.9" dy="5.8">7</tspan></text>
<text x="469.15" y="962" font-size="20" font-weight="400" fill="#3a3a3a" font-family="&quot;Liberation Sans&quot;, Arial, Helvetica, sans-serif">y<tspan font-size="13.8" dx="0.9" dy="5.8">8</tspan></text>
<text x="485.61" y="936.2" font-size="20" font-weight="400" fill="#3a3a3a" font-family="&quot;Liberation Sans&quot;, Arial, Helvetica, sans-serif">b<tspan font-size="13.8" dx="0.9" dy="5.8">8</tspan></text>
<text x="529.35" y="885.6" font-size="20" font-weight="400" fill="#3a3a3a" font-family="&quot;Liberation Sans&quot;, Arial, Helvetica, sans-serif">y<tspan font-size="13.8" dx="0.9" dy="5.8">9</tspan></text>
<text x="571.25" y="939.2" font-size="20" font-weight="400" fill="#3a3a3a" font-family="&quot;Liberation Sans&quot;, Arial, Helvetica, sans-serif">y<tspan font-size="13.8" dx="0.9" dy="5.8">10</tspan></text>
<text x="568.31" y="964.7" font-size="20" font-weight="400" fill="#3a3a3a" font-family="&quot;Liberation Sans&quot;, Arial, Helvetica, sans-serif">b<tspan font-size="13.8" dx="0.9" dy="5.8">10</tspan></text>
<text x="369.99" y="770.2" font-size="22.5" font-weight="700" fill="#1e1e1e" stroke="#1e1e1e" stroke-width="0.5" font-family="&quot;Liberation Sans&quot;, Arial, Helvetica, sans-serif" transform="translate(0 770.2) scale(1 1.09) translate(0 -770.2)">K</text>
<text x="395.59" y="770.2" font-size="22.5" font-weight="700" fill="#1e1e1e" stroke="#1e1e1e" stroke-width="0.5" font-family="&quot;Liberation Sans&quot;, Arial, Helvetica, sans-serif" transform="translate(0 770.2) scale(1 1.09) translate(0 -770.2)">K</text>
<text x="421.79" y="770.2" font-size="22.5" font-weight="700" fill="#1e1e1e" stroke="#1e1e1e" stroke-width="0.5" font-family="&quot;Liberation Sans&quot;, Arial, Helvetica, sans-serif" transform="translate(0 770.2) scale(1 1.09) translate(0 -770.2)">E</text>
<text x="445.89" y="770.2" font-size="22.5" font-weight="700" fill="#1e1e1e" stroke="#1e1e1e" stroke-width="0.5" font-family="&quot;Liberation Sans&quot;, Arial, Helvetica, sans-serif" transform="translate(0 770.2) scale(1 1.09) translate(0 -770.2)">E</text>
<text x="470.99" y="770.2" font-size="22.5" font-weight="700" fill="#1e1e1e" stroke="#1e1e1e" stroke-width="0.5" font-family="&quot;Liberation Sans&quot;, Arial, Helvetica, sans-serif" transform="translate(0 770.2) scale(1 1.09) translate(0 -770.2)">E</text>
<text x="495.09" y="770.2" font-size="22.5" font-weight="700" fill="#1e1e1e" stroke="#1e1e1e" stroke-width="0.5" font-family="&quot;Liberation Sans&quot;, Arial, Helvetica, sans-serif" transform="translate(0 770.2) scale(1 1.09) translate(0 -770.2)">E</text>
<text x="519.69" y="770.2" font-size="22.5" font-weight="700" fill="#1e1e1e" stroke="#1e1e1e" stroke-width="0.5" font-family="&quot;Liberation Sans&quot;, Arial, Helvetica, sans-serif" transform="translate(0 770.2) scale(1 1.09) translate(0 -770.2)">L</text>
<text x="541.55" y="770.2" font-size="22.5" font-weight="700" fill="#1e1e1e" stroke="#1e1e1e" stroke-width="0.5" font-family="&quot;Liberation Sans&quot;, Arial, Helvetica, sans-serif" transform="translate(0 770.2) scale(1 1.09) translate(0 -770.2)">V</text>
<text x="565.75" y="770.2" font-size="22.5" font-weight="700" fill="#1e1e1e" stroke="#1e1e1e" stroke-width="0.5" font-family="&quot;Liberation Sans&quot;, Arial, Helvetica, sans-serif" transform="translate(0 770.2) scale(1 1.09) translate(0 -770.2)">S</text>
<text x="589.49" y="770.2" font-size="22.5" font-weight="700" fill="#1e1e1e" stroke="#1e1e1e" stroke-width="0.5" font-family="&quot;Liberation Sans&quot;, Arial, Helvetica, sans-serif" transform="translate(0 770.2) scale(1 1.09) translate(0 -770.2)">L</text>
<text x="612.49" y="770.2" font-size="22.5" font-weight="700" fill="#1e1e1e" stroke="#1e1e1e" stroke-width="0.5" font-family="&quot;Liberation Sans&quot;, Arial, Helvetica, sans-serif" transform="translate(0 770.2) scale(1 1.09) translate(0 -770.2)">K</text>
<path d="M399.6 737.7H417V759.7M423.3 737.7H440.7V759.7M447.4 737.7H466.2V759.7M497.7 737.7H515.5V759.7M520.7 737.7H538.5V759.7M544.8 737.7H562.7V759.7M588.9 737.7H606.2V759.7M389.7 767.1V787.6H407.6M415.9 767.1V787.6H433.7M441.1 767.1V787.6H458.3M466.2 767.1V787.6H484.1M516.5 767.1V787.6H533.7M538.5 767.1V787.6H555.9M561.6 767.1V787.6H579.4M585.7 767.1V787.6H602.9" stroke="#1e1e1e" stroke-width="2.8" fill="none" stroke-linecap="butt" stroke-linejoin="miter"/>
<text x="390.61" y="723.1" font-size="18" font-weight="700" fill="#1e1e1e" font-family="&quot;Liberation Sans&quot;, Arial, Helvetica, sans-serif">b<tspan font-size="13" dx="0" dy="4.5">2</tspan></text>
<text x="415.81" y="723.1" font-size="18" font-weight="700" fill="#1e1e1e" font-family="&quot;Liberation Sans&quot;, Arial, Helvetica, sans-serif">b<tspan font-size="13" dx="0" dy="4.5">3</tspan></text>
<text x="443.01" y="723.1" font-size="18" font-weight="700" fill="#1e1e1e" font-family="&quot;Liberation Sans&quot;, Arial, Helvetica, sans-serif">b<tspan font-size="13" dx="0" dy="4.5">4</tspan></text>
<text x="496.51" y="723.1" font-size="18" font-weight="700" fill="#1e1e1e" font-family="&quot;Liberation Sans&quot;, Arial, Helvetica, sans-serif">b<tspan font-size="13" dx="0" dy="4.5">6</tspan></text>
<text x="518.51" y="723.1" font-size="18" font-weight="700" fill="#1e1e1e" font-family="&quot;Liberation Sans&quot;, Arial, Helvetica, sans-serif">b<tspan font-size="13" dx="0" dy="4.5">7</tspan></text>
<text x="543.01" y="723.1" font-size="18" font-weight="700" fill="#1e1e1e" font-family="&quot;Liberation Sans&quot;, Arial, Helvetica, sans-serif">b<tspan font-size="13" dx="0" dy="4.5">8</tspan></text>
<text x="586.21" y="723.1" font-size="18" font-weight="700" fill="#1e1e1e" font-family="&quot;Liberation Sans&quot;, Arial, Helvetica, sans-serif">b<tspan font-size="13" dx="0" dy="4.5">10</tspan></text>
<text x="390.48" y="808" font-size="18.5" font-weight="700" fill="#1e1e1e" font-family="&quot;Liberation Sans&quot;, Arial, Helvetica, sans-serif" transform="translate(0 808) scale(1 1.08) translate(0 -808)">Y<tspan font-size="13.5" dx="0" dy="0.7">10</tspan></text>
<text x="421.88" y="808" font-size="18.5" font-weight="700" fill="#1e1e1e" font-family="&quot;Liberation Sans&quot;, Arial, Helvetica, sans-serif" transform="translate(0 808) scale(1 1.08) translate(0 -808)">Y<tspan font-size="13.5" dx="0" dy="0.7">9</tspan></text>
<text x="445.98" y="808" font-size="18.5" font-weight="700" fill="#1e1e1e" font-family="&quot;Liberation Sans&quot;, Arial, Helvetica, sans-serif" transform="translate(0 808) scale(1 1.08) translate(0 -808)">Y<tspan font-size="13.5" dx="0" dy="0.7">8</tspan></text>
<text x="469.08" y="808" font-size="18.5" font-weight="700" fill="#1e1e1e" font-family="&quot;Liberation Sans&quot;, Arial, Helvetica, sans-serif" transform="translate(0 808) scale(1 1.08) translate(0 -808)">Y<tspan font-size="13.5" dx="0" dy="0.7">7</tspan></text>
<text x="514.08" y="808" font-size="18.5" font-weight="700" fill="#1e1e1e" font-family="&quot;Liberation Sans&quot;, Arial, Helvetica, sans-serif" transform="translate(0 808) scale(1 1.08) translate(0 -808)">Y<tspan font-size="13.5" dx="0" dy="0.7">5</tspan></text>
<text x="537.18" y="808" font-size="18.5" font-weight="700" fill="#1e1e1e" font-family="&quot;Liberation Sans&quot;, Arial, Helvetica, sans-serif" transform="translate(0 808) scale(1 1.08) translate(0 -808)">Y<tspan font-size="13.5" dx="0" dy="0.7">4</tspan></text>
<text x="560.28" y="808" font-size="18.5" font-weight="700" fill="#1e1e1e" font-family="&quot;Liberation Sans&quot;, Arial, Helvetica, sans-serif" transform="translate(0 808) scale(1 1.08) translate(0 -808)">Y<tspan font-size="13.5" dx="0" dy="0.7">3</tspan></text>
<text x="586.48" y="808" font-size="18.5" font-weight="700" fill="#1e1e1e" font-family="&quot;Liberation Sans&quot;, Arial, Helvetica, sans-serif" transform="translate(0 808) scale(1 1.08) translate(0 -808)">Y<tspan font-size="13.5" dx="0" dy="0.7">2</tspan></text>
<text x="335.05" y="781.9" font-size="19.8" font-weight="700" fill="#1e1e1e" text-anchor="start" font-family="&quot;Liberation Sans&quot;, Arial, Helvetica, sans-serif" >124</text>
<text x="632.67" y="781.9" font-size="19.6" font-weight="700" fill="#1e1e1e" text-anchor="start" font-family="&quot;Liberation Sans&quot;, Arial, Helvetica, sans-serif" >134</text>
<path d="M885 997.7v-0.8M885.97 997.7v-1.94M886.43 997.7v-6.17M887.84 997.7v-1.18M888.71 997.7v-3.42M889.66 997.7v-2.87M891.14 997.7v-0.97M892.14 997.7v-1.78M893.68 997.7v-4.33M895.21 997.7v-0.61M896.01 997.7v-1.93M897.87 997.7v-2M899.1 997.7v-1.38M899.67 997.7v-1.44M900.62 997.7v-3.79M901.33 997.7v-0.64M902.81 997.7v-1.65M903.65 997.7v-6.74M904.26 997.7v-0.63M905.44 997.7v-1.81M906.74 997.7v-0.97M907.36 997.7v-1.23M908.14 997.7v-3.56M911.15 997.7v-0.86M912.88 997.7v-1.79M914.18 997.7v-0.71M914.94 997.7v-1.55M915.69 997.7v-3.5M918.51 997.7v-1.11M919.55 997.7v-0.87M920.13 997.7v-2.33M920.59 997.7v-1.31M921.34 997.7v-1.64M921.86 997.7v-0.64M922.72 997.7v-1.59M924.99 997.7v-3.63M927.3 997.7v-1.96M927.92 997.7v-1.88M929.16 997.7v-1.13M931.01 997.7v-0.99M933.04 997.7v-2.49M933.52 997.7v-1.21M935.33 997.7v-0.64M937.16 997.7v-1M937.61 997.7v-1.77M938.45 997.7v-1.55M939.3 997.7v-2.56M940.72 997.7v-2.63M941.33 997.7v-0.92M941.99 997.7v-4.27M942.45 997.7v-0.85M944.82 997.7v-6.67M945.28 997.7v-0.65M946.63 997.7v-1.22M949.34 997.7v-3.2M950.1 997.7v-2.31M950.71 997.7v-2.15M951.64 997.7v-3.63M952.4 997.7v-5.36M953.66 997.7v-2.07M954.22 997.7v-1.26M954.93 997.7v-4.8M955.57 997.7v-0.92M956.38 997.7v-4.71M957.28 997.7v-0.62M961.26 997.7v-1.94M962.5 997.7v-2.14M964.2 997.7v-0.85M964.74 997.7v-1.81M965.74 997.7v-1.38M966.5 997.7v-3.86M967.64 997.7v-1.39M969.13 997.7v-6.76M969.67 997.7v-0.66M970.38 997.7v-0.92M970.83 997.7v-0.68M971.43 997.7v-0.67M972.79 997.7v-2.64M973.5 997.7v-1.28M974 997.7v-1.37M974.9 997.7v-0.7M976.15 997.7v-1.53M977.1 997.7v-1.79M977.86 997.7v-1.45M979.78 997.7v-2.69M982.16 997.7v-2.12M982.61 997.7v-4.46M983.62 997.7v-5.4M984.99 997.7v-1.55M987.45 997.7v-3.93M989.5 997.7v-1.96M990.4 997.7v-0.83M991.04 997.7v-2.08M991.51 997.7v-0.63M992.36 997.7v-1.33M994.8 997.7v-2.34M996.64 997.7v-4.2M997.56 997.7v-6.51M998.03 997.7v-0.68M998.56 997.7v-1.7M999.4 997.7v-2.32M999.94 997.7v-0.76M1001.97 997.7v-3.99M1002.92 997.7v-6.29M1003.43 997.7v-2.61M1003.9 997.7v-5.45M1005.45 997.7v-3.61M1006.27 997.7v-0.64M1007.17 997.7v-0.72M1008.16 997.7v-4.35M1009.11 997.7v-10.53M1010.63 997.7v-1.35M1011.33 997.7v-1.18M1012.69 997.7v-7.17M1013.67 997.7v-1.83M1014.64 997.7v-2.15M1015.24 997.7v-0.87M1016.83 997.7v-4.21M1017.36 997.7v-1.79M1021.09 997.7v-0.61M1022.08 997.7v-7.28M1022.57 997.7v-1.45M1024.57 997.7v-7.15M1025.44 997.7v-0.69M1027.05 997.7v-3.77M1027.93 997.7v-3.37M1028.62 997.7v-0.6M1030.17 997.7v-5.85M1031.09 997.7v-1.67M1031.73 997.7v-12.31M1032.43 997.7v-1.46M1033.32 997.7v-2.26M1034.15 997.7v-3.79M1034.96 997.7v-1.26M1036.01 997.7v-1.24M1036.55 997.7v-9.28M1037.15 997.7v-0.9M1037.93 997.7v-1.49M1039.18 997.7v-4.85M1039.8 997.7v-0.95M1040.41 997.7v-2.03M1041.38 997.7v-21.08M1042.22 997.7v-11.58M1043.74 997.7v-1.59M1044.55 997.7v-12.64M1045.21 997.7v-3.9M1046.2 997.7v-1.16M1048 997.7v-3.9M1048.77 997.7v-0.89M1049.59 997.7v-2.36M1050.26 997.7v-2.83M1051.12 997.7v-5.05M1051.75 997.7v-2.59M1052.73 997.7v-6.36M1053.34 997.7v-2.59M1054.07 997.7v-1.59M1054.87 997.7v-1.37M1055.42 997.7v-3.38M1056.33 997.7v-2.7M1056.84 997.7v-18.4M1057.33 997.7v-0.86M1058.01 997.7v-2.59M1059.53 997.7v-2.19M1060.5 997.7v-1.67M1061 997.7v-4.32M1061.48 997.7v-20.18M1062.2 997.7v-7.33M1063.25 997.7v-1.1M1064.13 997.7v-3.69M1064.95 997.7v-3.94M1065.4 997.7v-5.05M1066.41 997.7v-11.76M1068.32 997.7v-0.91M1068.83 997.7v-2.09M1069.87 997.7v-1.4M1070.49 997.7v-13.04M1071.38 997.7v-3.51M1071.86 997.7v-6.4M1072.76 997.7v-3.1M1073.72 997.7v-12.92M1074.73 997.7v-7.4M1075.21 997.7v-5.29M1075.97 997.7v-1.22M1077.19 997.7v-1.28M1078.14 997.7v-3.8M1079 997.7v-0.64M1079.55 997.7v-7.21M1080.19 997.7v-2M1080.81 997.7v-3.78M1082.53 997.7v-4.23M1083.54 997.7v-1.66M1084.3 997.7v-6.02M1085.12 997.7v-10.91M1085.85 997.7v-2.65M1086.9 997.7v-3.26M1090.21 997.7v-2.78M1090.69 997.7v-3.12M1091.32 997.7v-1.18M1092.23 997.7v-7.66M1092.92 997.7v-2.09M1093.89 997.7v-8.02M1094.9 997.7v-7.01M1095.67 997.7v-4.31M1097.22 997.7v-1.5M1098.14 997.7v-18.25M1098.61 997.7v-2.36M1099.18 997.7v-5.77M1100.49 997.7v-4.94M1101.06 997.7v-0.91M1101.56 997.7v-15.28M1102.81 997.7v-8.47M1104.47 997.7v-7.74M1105.13 997.7v-2.11M1105.61 997.7v-23.15M1106.25 997.7v-5.45M1107.13 997.7v-1.93M1107.85 997.7v-2.71M1108.8 997.7v-6.17M1109.77 997.7v-2.51M1111.24 997.7v-2.06M1111.81 997.7v-2.19M1112.43 997.7v-3.66M1114.26 997.7v-5.18M1115.26 997.7v-10.7M1116.19 997.7v-2.6M1117.12 997.7v-1.14M1118.76 997.7v-4.73M1119.47 997.7v-2.69M1120.25 997.7v-1.01M1122.92 997.7v-3.53M1123.43 997.7v-3.73M1124.05 997.7v-0.63M1124.73 997.7v-1.51M1126.12 997.7v-1.6M1126.95 997.7v-3.08M1128.79 997.7v-2.49M1131.13 997.7v-1.73M1131.72 997.7v-2.03M1132.42 997.7v-2.63M1133.04 997.7v-1.44M1133.78 997.7v-1.4M1134.73 997.7v-3.55M1135.44 997.7v-2.78M1136.05 997.7v-0.79M1136.76 997.7v-1.54M1137.58 997.7v-2.32M1139 997.7v-2.25M1139.56 997.7v-2.2M1140.32 997.7v-0.93M1141.08 997.7v-2.38M1142.91 997.7v-0.88M1143.44 997.7v-1.56M1145.12 997.7v-2.4M1146.04 997.7v-2.38M1146.5 997.7v-11.17M1147.16 997.7v-0.68M1148.49 997.7v-1.22M1149.26 997.7v-3.97M1149.76 997.7v-4.48M1151.32 997.7v-2.41M1154.88 997.7v-0.72M1155.54 997.7v-2.38M1156.16 997.7v-0.68M1156.74 997.7v-2.57M1158.54 997.7v-1.72M1160.21 997.7v-5.68M1161.84 997.7v-0.62M1162.43 997.7v-6.39M1162.97 997.7v-0.92M1163.43 997.7v-7.6M1164.56 997.7v-4.99M1165.16 997.7v-7.49M1165.96 997.7v-1.32M1167.4 997.7v-6.99M1168.21 997.7v-2.93M1169.76 997.7v-2.05M1171.24 997.7v-2.81M1172.41 997.7v-2.57M1173.41 997.7v-0.93M1174.38 997.7v-1.39M1175.21 997.7v-1.09M1175.82 997.7v-4.14M1176.85 997.7v-4.62M1177.67 997.7v-1.35M1178.56 997.7v-1.15M1180.04 997.7v-3.72M1181.08 997.7v-2.09M1181.88 997.7v-18.67M1182.65 997.7v-2.14M1183.11 997.7v-1.69M1183.84 997.7v-0.63M1184.41 997.7v-4.83M1185.69 997.7v-1.05M1186.51 997.7v-4.95M1187.5 997.7v-0.74M1188.02 997.7v-7.42M1189.66 997.7v-8.5M1190.31 997.7v-1.47M1191.27 997.7v-1.08M1192.29 997.7v-9.12M1192.94 997.7v-4.17M1193.71 997.7v-0.75M1194.68 997.7v-2.25M1196.19 997.7v-0.66M1197.1 997.7v-2.32M1197.56 997.7v-0.7M1198.5 997.7v-3.73M1199.2 997.7v-4.04M1200.07 997.7v-5.19M1201.03 997.7v-2.3M1203.16 997.7v-11.27M1203.8 997.7v-0.63M1204.28 997.7v-2.34M1204.85 997.7v-2.3M1206.28 997.7v-0.75M1206.8 997.7v-4.15M1207.58 997.7v-6.66M1208.58 997.7v-1.21M1209.32 997.7v-5.94M1211.73 997.7v-1.49M1212.29 997.7v-6.28M1213.13 997.7v-1.15M1213.82 997.7v-6.04M1214.84 997.7v-1.87M1215.7 997.7v-4.64M1216.36 997.7v-3.46M1217.33 997.7v-4.75M1219.07 997.7v-5.18M1220.04 997.7v-2.16M1220.61 997.7v-1.13M1222.07 997.7v-4.15M1223.11 997.7v-4.61M1223.65 997.7v-5.74M1225.49 997.7v-1.48M1226.05 997.7v-0.89M1226.81 997.7v-3.39M1228.15 997.7v-6.14M1229.14 997.7v-2.36M1229.69 997.7v-2.21M1231.13 997.7v-7.23M1233.09 997.7v-0.97M1234.99 997.7v-2.12M1235.71 997.7v-1.21M1236.25 997.7v-1.88M1237.28 997.7v-5.05M1237.87 997.7v-1.5M1238.56 997.7v-2.01M1239.47 997.7v-8.67M1239.96 997.7v-2.72M1240.95 997.7v-2.23M1241.52 997.7v-7.97M1242.12 997.7v-0.92M1243.67 997.7v-2.41M1244.91 997.7v-1.45M1245.54 997.7v-6.36M1246.22 997.7v-3.82M1247.19 997.7v-1.34M1247.93 997.7v-1.71M1249.99 997.7v-4.24M1250.59 997.7v-1.23M1251.44 997.7v-2.62M1252.37 997.7v-3.48M1252.98 997.7v-4.26M1254.73 997.7v-3.65M1255.77 997.7v-1.28M1256.56 997.7v-2.13M1257.13 997.7v-1.79M1257.74 997.7v-8.48M1259.2 997.7v-0.96M1260.59 997.7v-1.85M1261.34 997.7v-2.55M1262.12 997.7v-2.09M1262.63 997.7v-1.25M1263.46 997.7v-1.01M1264.32 997.7v-3.67M1265.22 997.7v-4.26M1266.12 997.7v-5.99M1267.01 997.7v-0.78M1268.05 997.7v-8.93M1268.84 997.7v-1.26M1269.62 997.7v-2.99M1270.44 997.7v-1.24M1271.17 997.7v-0.7M1271.94 997.7v-3.42M1272.42 997.7v-2.33M1273.02 997.7v-6.42M1274.01 997.7v-2.8M1274.65 997.7v-1.44M1275.22 997.7v-0.78M1275.68 997.7v-2.38M1277.22 997.7v-2.65M1278 997.7v-0.85M1279.03 997.7v-2.55M1279.74 997.7v-7.49M1280.22 997.7v-5.37M1281.26 997.7v-6.39M1282.25 997.7v-4.16M1283.14 997.7v-3.78M1284.16 997.7v-1.74M1285.16 997.7v-2.01M1285.97 997.7v-3.02M1289.15 997.7v-1.58M1290.14 997.7v-0.83M1290.71 997.7v-2.84M1292.12 997.7v-4.99M1292.86 997.7v-2.65M1293.38 997.7v-0.71M1293.9 997.7v-4.28M1295.46 997.7v-0.72M1296.26 997.7v-3.06M1296.95 997.7v-2.48M1297.66 997.7v-2.03M1299.98 997.7v-6.67M1300.74 997.7v-0.77M1301.46 997.7v-0.66M1303.78 997.7v-2.31M1305.24 997.7v-1.8M1308.59 997.7v-2.15M1309.44 997.7v-2.8M1309.93 997.7v-2.31M1310.77 997.7v-1.5M1312.02 997.7v-2.33M1315.16 997.7v-1M1315.78 997.7v-2.99M1316.29 997.7v-4.31M1317.1 997.7v-1.25M1318.19 997.7v-0.65M1319.21 997.7v-0.69M1319.89 997.7v-4.87M1320.88 997.7v-0.92M1322.42 997.7v-1.7M1324.58 997.7v-0.77M1325.05 997.7v-5.78M1326.92 997.7v-1.24M1327.91 997.7v-0.8M1328.5 997.7v-2.2M1329.08 997.7v-0.67M1330.12 997.7v-3.21M1331.57 997.7v-3.01M1332.15 997.7v-3.21M1332.91 997.7v-1.38M1335.71 997.7v-1.08M1336.63 997.7v-1.88M1337.6 997.7v-2.78M1338.9 997.7v-1.51M1339.44 997.7v-1.28M1339.93 997.7v-0.77M1340.45 997.7v-0.72M1341.06 997.7v-2.2M1341.51 997.7v-1.29M1342 997.7v-4.24M1342.79 997.7v-3.78M1343.35 997.7v-3.08M1343.87 997.7v-1.25M1344.34 997.7v-2.86M1345.17 997.7v-0.74M1345.74 997.7v-0.93M1346.26 997.7v-3.15M1347.33 997.7v-1.05M1347.99 997.7v-1.21M1349.36 997.7v-1.37M1349.87 997.7v-2.45M1350.63 997.7v-0.83M1352.83 997.7v-1.42M1355.32 997.7v-1.74M1356.19 997.7v-0.88M1359.2 997.7v-1.57M1359.75 997.7v-1.12M1361.3 997.7v-1.06M1362.82 997.7v-0.62M1363.5 997.7v-1.61M1365.64 997.7v-0.92M1371.59 997.7v-0.96M1372.11 997.7v-0.91M1373.38 997.7v-0.91M1374.55 997.7v-1.55M1375.59 997.7v-0.8M1378.68 997.7v-0.77M1379.55 997.7v-0.95M1381.03 997.7v-1.17M1381.55 997.7v-1.24M1386.4 997.7v-1.24M1388.11 997.7v-0.74M1391.08 997.7v-1.28M1392.84 997.7v-1.03M1401.52 997.7v-0.64M1408.72 997.7v-0.91M1411.61 997.7v-1.03M1416.09 997.7v-0.64M1418.09 997.7v-1.25M1419.99 997.7v-0.73M1430.2 997.7v-0.76M1433.94 997.7v-0.8M1434.65 997.7v-0.74M1438.68 997.7v-2.05M1445.68 997.7v-0.8" stroke="#1f1f1f" stroke-width="1" fill="none"/>
<path d="M885 998.7L885 997.03L885.8 997.07L886.6 997.23L887.4 997.27L888.2 997.19L889 997.09L889.8 997.17L890.6 997.12L891.4 997.15L892.2 997.28L893 997.23L893.8 997.19L894.6 997.18L895.4 997.21L896.2 997.1L897 997.19L897.8 997.24L898.6 997.25L899.4 997.24L900.2 997.09L901 997.27L901.8 997.34L902.6 997.3L903.4 997.28L904.2 997.21L905 997.11L905.8 997.01L906.6 996.96L907.4 997.04L908.2 997.23L909 997.27L909.8 997.07L910.6 997.04L911.4 997.15L912.2 997.11L913 997.05L913.8 997.24L914.6 997.19L915.4 997.21L916.2 997.05L917 997.07L917.8 997.17L918.6 997.23L919.4 997.16L920.2 997.17L921 997.3L921.8 997.32L922.6 997.32L923.4 997.33L924.2 997.18L925 997.26L925.8 997.21L926.6 997.24L927.4 997.27L928.2 997.33L929 997.11L929.8 997.05L930.6 997.17L931.4 996.99L932.2 997.03L933 996.95L933.8 996.99L934.6 997.2L935.4 997.1L936.2 996.97L937 996.86L937.8 996.95L938.6 997.03L939.4 997.01L940.2 997.06L941 997.17L941.8 997.28L942.6 997.02L943.4 997.14L944.2 997.17L945 997.24L945.8 997.01L946.6 997.07L947.4 997.15L948.2 997.05L949 997.21L949.8 997.18L950.6 997.19L951.4 997.16L952.2 997.13L953 997.09L953.8 997.23L954.6 997.04L955.4 997.2L956.2 997.07L957 997.22L957.8 997.1L958.6 996.91L959.4 996.95L960.2 996.93L961 997.12L961.8 997.09L962.6 997.1L963.4 996.93L964.2 996.94L965 997.05L965.8 996.94L966.6 996.89L967.4 996.83L968.2 996.78L969 996.99L969.8 996.95L970.6 996.77L971.4 996.97L972.2 996.88L973 996.76L973.8 996.98L974.6 996.82L975.4 997.02L976.2 996.85L977 997.07L977.8 997.21L978.6 997.25L979.4 997.24L980.2 997.01L981 997.04L981.8 997.1L982.6 997.08L983.4 997.22L984.2 997.05L985 996.8L985.8 997.05L986.6 997.18L987.4 996.9L988.2 996.78L989 997.05L989.8 997.18L990.6 997.04L991.4 996.9L992.2 996.79L993 996.65L993.8 996.58L994.6 996.79L995.4 997.06L996.2 997.09L997 996.87L997.8 997.05L998.6 997.08L999.4 997.04L1000.2 997.11L1001 996.99L1001.8 996.85L1002.6 996.64L1003.4 996.47L1004.2 996.28L1005 996.57L1005.8 996.27L1006.6 996.41L1007.4 996.28L1008.2 996.51L1009 996.6L1009.8 996.32L1010.6 996.24L1011.4 996.12L1012.2 996.34L1013 996.05L1013.8 995.95L1014.6 995.88L1015.4 995.91L1016.2 996.11L1017 995.89L1017.8 995.64L1018.6 995.61L1019.4 995.57L1020.2 995.44L1021 995.82L1021.8 995.26L1022.6 995.86L1023.4 996.03L1024.2 996.22L1025 995.41L1025.8 995.85L1026.6 995.33L1027.4 995.89L1028.2 995.57L1029 994.97L1029.8 995.56L1030.6 994.62L1031.4 995.45L1032.2 995.87L1033 994.74L1033.8 994.84L1034.6 994.5L1035.4 995.19L1036.2 995.24L1037 994.76L1037.8 995.4L1038.6 994.64L1039.4 995.09L1040.2 994.33L1041 994.13L1041.8 994.85L1042.6 995.38L1043.4 994.26L1044.2 994.95L1045 993.49L1045.8 992.31L1046.6 992.56L1047.4 993.79L1048.2 993.15L1049 993.79L1049.8 994.56L1050.6 994.95L1051.4 992.95L1052.2 992.81L1053 991.41L1053.8 992.71L1054.6 991.3L1055.4 993.21L1056.2 992.79L1057 993.74L1057.8 994.25L1058.6 992.9L1059.4 991.85L1060.2 992.28L1061 991.79L1061.8 991.78L1062.6 993.1L1063.4 993.53L1064.2 993.63L1065 991.27L1065.8 990.97L1066.6 992.23L1067.4 992.62L1068.2 990.83L1069 989.38L1069.8 988.24L1070.6 989.46L1071.4 989.28L1072.2 988.2L1073 987.24L1073.8 988.87L1074.6 989.18L1075.4 988.03L1076.2 988.34L1077 990.27L1077.8 989.99L1078.6 990.24L1079.4 990.42L1080.2 989.88L1081 989.79L1081.8 988.93L1082.6 987.33L1083.4 986.25L1084.2 989.22L1085 988.68L1085.8 988.11L1086.6 987.55L1087.4 987.43L1088.2 987.61L1089 989.99L1089.8 991.16L1090.6 990.59L1091.4 991.13L1092.2 990.06L1093 988.53L1093.8 989.02L1094.6 988.73L1095.4 991.43L1096.2 991.79L1097 990.18L1097.8 991.97L1098.6 992.21L1099.4 992.37L1100.2 991.4L1101 991.82L1101.8 992.52L1102.6 991.7L1103.4 991.23L1104.2 992.08L1105 991.44L1105.8 989.55L1106.6 991.41L1107.4 989.7L1108.2 990.55L1109 989.31L1109.8 989.63L1110.6 991.94L1111.4 990.48L1112.2 989.27L1113 990.07L1113.8 992.83L1114.6 993.83L1115.4 995.15L1116.2 996.18L1117 996.6L1117.8 996.9L1118.6 996.79L1119.4 996.65L1120.2 996.61L1121 996.82L1121.8 996.72L1122.6 996.94L1123.4 996.83L1124.2 996.46L1125 996.74L1125.8 996.66L1126.6 996.85L1127.4 996.58L1128.2 996.42L1129 996.44L1129.8 996.57L1130.6 996.66L1131.4 996.52L1132.2 996.75L1133 996.91L1133.8 997.05L1134.6 996.67L1135.4 996.45L1136.2 996.31L1137 996.15L1137.8 996.31L1138.6 996.37L1139.4 996.27L1140.2 996.66L1141 996.35L1141.8 996.21L1142.6 996.54L1143.4 996.56L1144.2 996.37L1145 996.71L1145.8 996.9L1146.6 996.86L1147.4 996.9L1148.2 996.49L1149 996.36L1149.8 996.57L1150.6 996.35L1151.4 996.09L1152.2 995.9L1153 995.55L1153.8 996.11L1154.6 996.07L1155.4 995.59L1156.2 995.26L1157 995.92L1157.8 995.97L1158.6 995.33L1159.4 995.53L1160.2 995.74L1161 995.56L1161.8 995.63L1162.6 995.88L1163.4 995.89L1164.2 995.7L1165 995.94L1165.8 995.41L1166.6 994.57L1167.4 994.7L1168.2 994.91L1169 995.07L1169.8 993.84L1170.6 994.53L1171.4 994.98L1172.2 995.37L1173 994.67L1173.8 995.15L1174.6 995.45L1175.4 994.01L1176.2 993.05L1177 993.74L1177.8 994.41L1178.6 993.24L1179.4 993.29L1180.2 992.94L1181 994.36L1181.8 994.65L1182.6 994.85L1183.4 993.8L1184.2 994.17L1185 993.49L1185.8 993.02L1186.6 992.5L1187.4 992.78L1188.2 992.42L1189 993.74L1189.8 993.95L1190.6 993.87L1191.4 994.81L1192.2 994.79L1193 993.69L1193.8 993.57L1194.6 994.51L1195.4 994.85L1196.2 993.63L1197 993.24L1197.8 993.01L1198.6 994.36L1199.4 993.14L1200.2 993L1201 993.11L1201.8 994.33L1202.6 994.55L1203.4 994.72L1204.2 994.85L1205 994.91L1205.8 994.64L1206.6 994.24L1207.4 993.45L1208.2 993.34L1209 994.63L1209.8 994.74L1210.6 994.95L1211.4 994.65L1212.2 994.45L1213 993.44L1213.8 992.83L1214.6 992.69L1215.4 994.25L1216.2 994.79L1217 995.29L1217.8 994.89L1218.6 994.23L1219.4 993.37L1220.2 994.53L1221 993.5L1221.8 994.08L1222.6 994.41L1223.4 994.47L1224.2 994.99L1225 995.11L1225.8 995.59L1226.6 995.07L1227.4 994.2L1228.2 994.91L1229 994.96L1229.8 994.12L1230.6 993.61L1231.4 994.03L1232.2 993.24L1233 993.58L1233.8 993.39L1234.6 994.24L1235.4 994.76L1236.2 994.61L1237 995.1L1237.8 994.2L1238.6 993.61L1239.4 994.15L1240.2 993.9L1241 993.43L1241.8 993.96L1242.6 994.48L1243.4 995.42L1244.2 995.74L1245 995.09L1245.8 994.97L1246.6 995.49L1247.4 995.66L1248.2 996.2L1249 995.84L1249.8 995.61L1250.6 996.24L1251.4 996.18L1252.2 996.1L1253 995.73L1253.8 995.68L1254.6 995.95L1255.4 995.87L1256.2 996.02L1257 996.1L1257.8 996.18L1258.6 996.29L1259.4 996.11L1260.2 996.03L1261 995.83L1261.8 996.38L1262.6 996.44L1263.4 996.34L1264.2 996.46L1265 996.62L1265.8 995.96L1266.6 995.64L1267.4 995.44L1268.2 996.13L1269 995.78L1269.8 995.94L1270.6 996.3L1271.4 996.01L1272.2 996.1L1273 996.51L1273.8 996.57L1274.6 996.56L1275.4 996.23L1276.2 996.58L1277 996.24L1277.8 996.58L1278.6 996.41L1279.4 996.28L1280.2 996.28L1281 996.26L1281.8 996.12L1282.6 995.98L1283.4 996.28L1284.2 996.16L1285 996.47L1285.8 996.08L1286.6 996.1L1287.4 996.07L1288.2 995.96L1289 995.82L1289.8 996.05L1290.6 995.93L1291.4 995.98L1292.2 996.07L1293 996.34L1293.8 996.19L1294.6 996.54L1295.4 996.15L1296.2 996.46L1297 996.78L1297.8 996.8L1298.6 996.67L1299.4 996.77L1300.2 996.6L1301 996.64L1301.8 996.58L1302.6 996.27L1303.4 996.12L1304.2 996.18L1305 996.14L1305.8 996.21L1306.6 996.24L1307.4 996.56L1308.2 996.29L1309 996.73L1309.8 996.36L1310.6 996.46L1311.4 996.81L1312.2 996.75L1313 996.66L1313.8 996.87L1314.6 996.52L1315.4 996.73L1316.2 996.67L1317 996.72L1317.8 996.68L1318.6 996.93L1319.4 996.65L1320.2 996.91L1321 997.01L1321.8 996.83L1322.6 996.5L1323.4 996.49L1324.2 996.72L1325 996.65L1325.8 996.73L1326.6 996.73L1327.4 996.91L1328.2 996.79L1329 996.97L1329.8 996.66L1330.6 996.93L1331.4 996.6L1332.2 996.47L1333 996.48L1333.8 996.64L1334.6 996.75L1335.4 996.75L1336.2 996.96L1337 996.75L1337.8 996.69L1338.6 996.53L1339.4 996.78L1340.2 996.98L1341 996.89L1341.8 996.63L1342.6 996.63L1343.4 996.93L1344.2 996.72L1345 996.78L1345.8 996.6L1346.6 996.58L1347.4 996.51L1348.2 996.77L1349 996.64L1349.8 996.59L1350.6 996.92L1351.4 996.99L1352.2 997.15L1353 997.23L1353.8 997.12L1354.6 997.25L1355.4 997.12L1356.2 997.2L1357 997.06L1357.8 997.24L1358.6 997.35L1359.4 997.3L1360.2 997.3L1361 997.38L1361.8 997.34L1362.6 997.33L1363.4 997.43L1364.2 997.47L1365 997.51L1365.8 997.47L1366.6 997.47L1367.4 997.51L1368.2 997.46L1369 997.5L1369.8 997.46L1370.6 997.45L1371.4 997.44L1372.2 997.48L1373 997.46L1373.8 997.51L1374.6 997.54L1375.4 997.48L1376.2 997.5L1377 997.47L1377.8 997.52L1378.6 997.54L1379.4 997.48L1380.2 997.49L1381 997.5L1381.8 997.54L1382.6 997.56L1383.4 997.5L1384.2 997.51L1385 997.56L1385.8 997.57L1386.6 997.59L1387.4 997.55L1388.2 997.58L1389 997.56L1389.8 997.53L1390.6 997.54L1391.4 997.55L1392.2 997.53L1393 997.53L1393.8 997.56L1394.6 997.52L1395.4 997.57L1396.2 997.57L1397 997.54L1397.8 997.5L1398.6 997.51L1399.4 997.55L1400.2 997.55L1401 997.51L1401.8 997.56L1402.6 997.51L1403.4 997.56L1404.2 997.58L1405 997.52L1405.8 997.56L1406.6 997.55L1407.4 997.55L1408.2 997.57L1409 997.57L1409.8 997.59L1410.6 997.54L1411.4 997.53L1412.2 997.54L1413 997.58L1413.8 997.54L1414.6 997.56L1415.4 997.58L1416.2 997.55L1417 997.56L1417.8 997.59L1418.6 997.61L1419.4 997.6L1420.2 997.56L1421 997.57L1421.8 997.59L1422.6 997.55L1423.4 997.59L1424.2 997.61L1425 997.58L1425.8 997.58L1426.6 997.59L1427.4 997.59L1428.2 997.57L1429 997.58L1429.8 997.57L1430.6 997.56L1431.4 997.57L1432.2 997.61L1433 997.6L1433.8 997.57L1434.6 997.6L1435.4 997.6L1436.2 997.6L1437 997.6L1437.8 997.62L1438.6 997.61L1439.4 997.62L1440.2 997.61L1441 997.58L1441.8 997.59L1442.6 997.61L1443.4 997.59L1444.2 997.57L1445 997.6L1445.8 997.58L1446.6 997.56L1447.4 997.57L1448.2 997.59L1449 997.57L1449.8 997.56L1450 998.7Z" fill="#1f1f1f"/>
<path d="M896.2 998.6V992M919.6 998.6V991M927 998.6V990.5M935.1 998.6V980.6M950.9 998.6V950.3M951.5 998.6V982M966 998.6V990M998 998.6V985.5M1011.3 998.6V985.8M1026 998.6V989M1031.1 998.6V971.2M1035.1 998.6V967.8M1039 998.6V982M1045.9 998.6V962.4M1051.2 998.6V947.8M1057 998.6V969.8M1066 998.6V985M1070.5 998.6V922.9M1072.7 998.6V973.7M1078 998.6V975M1086.1 998.6V688.4M1092.7 998.6V975M1097.4 998.6V980M1100.9 998.6V825.8M1107.3 998.6V912.3M1112.4 998.6V770.2M1159.6 998.6V964.4M1173.9 998.6V962.4M1181 998.6V966.3M1190.4 998.6V969.4M1194 998.6V976.6M1201.5 998.6V980M1220.6 998.6V975.5M1235.7 998.6V926.3M1281.1 998.6V944.5M1287.7 998.6V978.1M1296.9 998.6V820.3M1313.5 998.6V971.6M1322.7 998.6V973.3M1368.1 998.6V985.3M1376.2 998.6V951.5M1385.2 998.6V924.8M1424.3 998.6V993" stroke="#333" stroke-width="1.3" fill="none"/>
<path d="M1046.6 998.6V977M1050.6 998.6V967.5M1101 998.6V969.4M1106.8 998.6V966M1112.2 998.6V929.3M1234.8 998.6V975.5M1282.2 998.6V966.3" stroke="#1e1e1e" stroke-width="2.2" fill="none"/>
<path d="M883 680.9V1001.8M880.8 999.6H1455" stroke="#231f20" stroke-width="4.4" fill="none"/>
<text x="831.1" y="688.55" font-size="20.5" font-weight="400" fill="#231f20" text-anchor="start" font-family="&quot;Liberation Sans&quot;, Arial, Helvetica, sans-serif" >100</text>
<text x="842.56" y="766.05" font-size="20.5" font-weight="400" fill="#231f20" text-anchor="start" font-family="&quot;Liberation Sans&quot;, Arial, Helvetica, sans-serif" >75</text>
<text x="842.5" y="845.05" font-size="20.5" font-weight="400" fill="#231f20" text-anchor="start" font-family="&quot;Liberation Sans&quot;, Arial, Helvetica, sans-serif" >50</text>
<text x="842.56" y="924.35" font-size="20.5" font-weight="400" fill="#231f20" text-anchor="start" font-family="&quot;Liberation Sans&quot;, Arial, Helvetica, sans-serif" >25</text>
<text x="853.9" y="1005.55" font-size="20.5" font-weight="400" fill="#231f20" text-anchor="start" font-family="&quot;Liberation Sans&quot;, Arial, Helvetica, sans-serif" >0</text>
<text x="865.51" y="1034.1" font-size="21.3" font-weight="400" fill="#231f20" text-anchor="start" font-family="&quot;Liberation Sans&quot;, Arial, Helvetica, sans-serif" >200</text>
<text x="961.2" y="1034.1" font-size="21.3" font-weight="400" fill="#231f20" text-anchor="start" font-family="&quot;Liberation Sans&quot;, Arial, Helvetica, sans-serif" >400</text>
<text x="1054.61" y="1034.1" font-size="21.3" font-weight="400" fill="#231f20" text-anchor="start" font-family="&quot;Liberation Sans&quot;, Arial, Helvetica, sans-serif" >600</text>
<text x="1148.38" y="1034.1" font-size="21.3" font-weight="400" fill="#231f20" text-anchor="start" font-family="&quot;Liberation Sans&quot;, Arial, Helvetica, sans-serif" >800</text>
<text x="1237.41" y="1034.1" font-size="21.3" font-weight="400" fill="#231f20" text-anchor="start" font-family="&quot;Liberation Sans&quot;, Arial, Helvetica, sans-serif" >1000</text>
<text x="1332.51" y="1034.1" font-size="21.3" font-weight="400" fill="#231f20" text-anchor="start" font-family="&quot;Liberation Sans&quot;, Arial, Helvetica, sans-serif" >1200</text>
<text x="1428.61" y="1034.1" font-size="21.3" font-weight="400" fill="#231f20" text-anchor="start" font-family="&quot;Liberation Sans&quot;, Arial, Helvetica, sans-serif" >1400</text>
<path d="M869.8 759.6H883M869.8 838.6H883M869.8 917.9H883M869.8 999.1H883M883.4 999.6V1013.6M978.8 999.6V1013.6M1072.5 999.6V1013.6M1166.2 999.6V1013.6M1261.5 999.6V1013.6M1356.6 999.6V1013.6M1452.7 999.6V1013.6M1452.8 999.6V1013.6" stroke="#231f20" stroke-width="4.4" fill="none"/>
<text x="1088.79" y="1067.6" font-size="25" font-weight="700" fill="#231f20" text-anchor="start" font-family="&quot;Liberation Sans&quot;, Arial, Helvetica, sans-serif" >m/z</text>
<text transform="translate(832 841.7) rotate(-90)" x="0" y="0" text-anchor="middle" font-size="25" font-weight="700" fill="#231f20" font-family="&quot;Liberation Sans&quot;, Arial, Helvetica, sans-serif">Relative abundance</text>
<text x="1075.05" y="672" font-size="19" font-weight="400" fill="#3a3a3a" font-family="&quot;Liberation Sans&quot;, Arial, Helvetica, sans-serif">y<tspan font-size="13.8" dx="0.9" dy="5.8">10</tspan></text>
<text x="1078.79" y="685" font-size="14.5" font-weight="400" fill="#3a3a3a" text-anchor="start" font-family="&quot;Liberation Sans&quot;, Arial, Helvetica, sans-serif" >++</text>
<text x="1291.55" y="801.5" font-size="20" font-weight="400" fill="#3a3a3a" font-family="&quot;Liberation Sans&quot;, Arial, Helvetica, sans-serif">y<tspan font-size="13.8" dx="0.9" dy="5.8">9</tspan></text>
<text x="913.85" y="971.5" font-size="20" font-weight="400" fill="#3a3a3a" font-family="&quot;Liberation Sans&quot;, Arial, Helvetica, sans-serif">y<tspan font-size="13.8" dx="0.9" dy="5.8">5</tspan></text>
<text x="913.79" y="984.5" font-size="14.5" font-weight="400" fill="#3a3a3a" text-anchor="start" font-family="&quot;Liberation Sans&quot;, Arial, Helvetica, sans-serif" >++</text>
<text x="921.51" y="953.5" font-size="20" font-weight="400" fill="#3a3a3a" font-family="&quot;Liberation Sans&quot;, Arial, Helvetica, sans-serif">b<tspan font-size="13.8" dx="0.9" dy="5.8">2</tspan><tspan font-size="13.8" dy="-11.2">CML</tspan></text>
<text x="991.05" y="967.5" font-size="20" font-weight="400" fill="#3a3a3a" font-family="&quot;Liberation Sans&quot;, Arial, Helvetica, sans-serif">y<tspan font-size="13.8" dx="0.9" dy="5.8">4</tspan></text>
<text x="1046.55" y="935.8" font-size="20" font-weight="400" fill="#3a3a3a" font-family="&quot;Liberation Sans&quot;, Arial, Helvetica, sans-serif">y<tspan font-size="13.8" dx="0.9" dy="5.8">5</tspan></text>
<text x="1169.51" y="927.4" font-size="20" font-weight="400" fill="#3a3a3a" font-family="&quot;Liberation Sans&quot;, Arial, Helvetica, sans-serif">b<tspan font-size="13.8" dx="0.9" dy="5.8">6</tspan><tspan font-size="13.8" dy="-11.2">CML</tspan></text>
<text x="1169.15" y="949.5" font-size="20" font-weight="400" fill="#3a3a3a" font-family="&quot;Liberation Sans&quot;, Arial, Helvetica, sans-serif">y<tspan font-size="13.8" dx="0.9" dy="5.8">7</tspan></text>
<text x="1233.05" y="910" font-size="20" font-weight="400" fill="#3a3a3a" font-family="&quot;Liberation Sans&quot;, Arial, Helvetica, sans-serif">y<tspan font-size="13.8" dx="0.9" dy="5.8">8</tspan></text>
<text x="1310.41" y="961.3" font-size="20" font-weight="400" fill="#3a3a3a" font-family="&quot;Liberation Sans&quot;, Arial, Helvetica, sans-serif">b<tspan font-size="13.8" dx="0.9" dy="5.8">9</tspan><tspan font-size="13.8" dy="-11.2">CML</tspan></text>
<text x="1371.85" y="903.5" font-size="20" font-weight="400" fill="#3a3a3a" font-family="&quot;Liberation Sans&quot;, Arial, Helvetica, sans-serif">y<tspan font-size="13.8" dx="0.9" dy="5.8">10</tspan></text>
<text x="1165.39" y="717.8" font-size="24" font-weight="700" fill="#1e1e1e" stroke="#1e1e1e" stroke-width="0.5" font-family="&quot;Liberation Sans&quot;, Arial, Helvetica, sans-serif" transform="translate(0 717.8) scale(1 1.1) translate(0 -717.8)">K</text>
<text x="1189.59" y="717.8" font-size="24" font-weight="700" fill="#1e1e1e" stroke="#1e1e1e" stroke-width="0.5" font-family="&quot;Liberation Sans&quot;, Arial, Helvetica, sans-serif" transform="translate(0 717.8) scale(1 1.1) translate(0 -717.8)">K</text>
<text x="1216.19" y="717.8" font-size="24" font-weight="700" fill="#1e1e1e" stroke="#1e1e1e" stroke-width="0.5" font-family="&quot;Liberation Sans&quot;, Arial, Helvetica, sans-serif" transform="translate(0 717.8) scale(1 1.1) translate(0 -717.8)">E</text>
<text x="1239.69" y="717.8" font-size="24" font-weight="700" fill="#1e1e1e" stroke="#1e1e1e" stroke-width="0.5" font-family="&quot;Liberation Sans&quot;, Arial, Helvetica, sans-serif" transform="translate(0 717.8) scale(1 1.1) translate(0 -717.8)">E</text>
<text x="1264.59" y="717.8" font-size="24" font-weight="700" fill="#1e1e1e" stroke="#1e1e1e" stroke-width="0.5" font-family="&quot;Liberation Sans&quot;, Arial, Helvetica, sans-serif" transform="translate(0 717.8) scale(1 1.1) translate(0 -717.8)">E</text>
<text x="1289.49" y="717.8" font-size="24" font-weight="700" fill="#1e1e1e" stroke="#1e1e1e" stroke-width="0.5" font-family="&quot;Liberation Sans&quot;, Arial, Helvetica, sans-serif" transform="translate(0 717.8) scale(1 1.1) translate(0 -717.8)">E</text>
<text x="1313.39" y="717.8" font-size="24" font-weight="700" fill="#1e1e1e" stroke="#1e1e1e" stroke-width="0.5" font-family="&quot;Liberation Sans&quot;, Arial, Helvetica, sans-serif" transform="translate(0 717.8) scale(1 1.1) translate(0 -717.8)">L</text>
<text x="1336.84" y="717.8" font-size="24" font-weight="700" fill="#1e1e1e" stroke="#1e1e1e" stroke-width="0.5" font-family="&quot;Liberation Sans&quot;, Arial, Helvetica, sans-serif" transform="translate(0 717.8) scale(1 1.1) translate(0 -717.8)">V</text>
<text x="1360.41" y="717.8" font-size="24" font-weight="700" fill="#1e1e1e" stroke="#1e1e1e" stroke-width="0.5" font-family="&quot;Liberation Sans&quot;, Arial, Helvetica, sans-serif" transform="translate(0 717.8) scale(1 1.1) translate(0 -717.8)">S</text>
<text x="1384.19" y="717.8" font-size="24" font-weight="700" fill="#1e1e1e" stroke="#1e1e1e" stroke-width="0.5" font-family="&quot;Liberation Sans&quot;, Arial, Helvetica, sans-serif" transform="translate(0 717.8) scale(1 1.1) translate(0 -717.8)">L</text>
<text x="1407.19" y="717.8" font-size="24" font-weight="700" fill="#1e1e1e" stroke="#1e1e1e" stroke-width="0.5" font-family="&quot;Liberation Sans&quot;, Arial, Helvetica, sans-serif" transform="translate(0 717.8) scale(1 1.1) translate(0 -717.8)">K</text>
<path d="M1194.9 685.4H1213V706.5M1292.2 685.4H1310.5V706.5M1315.3 685.4H1334V706.5M1362.1 685.4H1381V706.5M1187.1 713.9V734.5H1205.7M1212.3 713.9V734.5H1230M1236.5 713.9V734.5H1254.1M1261.4 713.9V734.5H1279.5M1311.2 713.9V734.5H1329.1M1332.9 713.9V734.5H1351.2" stroke="#1e1e1e" stroke-width="2.9" fill="none" stroke-linecap="butt" stroke-linejoin="miter"/>
<path d="M1186.4 722.7H1208.2" stroke="#1e1e1e" stroke-width="2.6"/>
<text x="1185.11" y="669.8" font-size="19.5" font-weight="700" fill="#1e1e1e" font-family="&quot;Liberation Sans&quot;, Arial, Helvetica, sans-serif">b<tspan font-size="14" dx="0" dy="5">2</tspan></text>
<text x="1291.61" y="669.8" font-size="19.5" font-weight="700" fill="#1e1e1e" font-family="&quot;Liberation Sans&quot;, Arial, Helvetica, sans-serif">b<tspan font-size="14" dx="0" dy="5">6</tspan></text>
<text x="1360.11" y="669.8" font-size="19.5" font-weight="700" fill="#1e1e1e" font-family="&quot;Liberation Sans&quot;, Arial, Helvetica, sans-serif">b<tspan font-size="14" dx="0" dy="5">9</tspan></text>
<text x="1186.08" y="756" font-size="19" font-weight="700" fill="#1e1e1e" font-family="&quot;Liberation Sans&quot;, Arial, Helvetica, sans-serif" transform="translate(0 756) scale(1 1.1) translate(0 -756)">Y<tspan font-size="14" dx="0" dy="0.7">10</tspan></text>
<text x="1217.48" y="756" font-size="19" font-weight="700" fill="#1e1e1e" font-family="&quot;Liberation Sans&quot;, Arial, Helvetica, sans-serif" transform="translate(0 756) scale(1 1.1) translate(0 -756)">Y<tspan font-size="14" dx="0" dy="0.7">9</tspan></text>
<text x="1241.68" y="756" font-size="19" font-weight="700" fill="#1e1e1e" font-family="&quot;Liberation Sans&quot;, Arial, Helvetica, sans-serif" transform="translate(0 756) scale(1 1.1) translate(0 -756)">Y<tspan font-size="14" dx="0" dy="0.7">8</tspan></text>
<text x="1264.68" y="756" font-size="19" font-weight="700" fill="#1e1e1e" font-family="&quot;Liberation Sans&quot;, Arial, Helvetica, sans-serif" transform="translate(0 756) scale(1 1.1) translate(0 -756)">Y<tspan font-size="14" dx="0" dy="0.7">7</tspan></text>
<text x="1310.18" y="756" font-size="19" font-weight="700" fill="#1e1e1e" font-family="&quot;Liberation Sans&quot;, Arial, Helvetica, sans-serif" transform="translate(0 756) scale(1 1.1) translate(0 -756)">Y<tspan font-size="14" dx="0" dy="0.7">5</tspan></text>
<text x="1332.28" y="756" font-size="19" font-weight="700" fill="#1e1e1e" font-family="&quot;Liberation Sans&quot;, Arial, Helvetica, sans-serif" transform="translate(0 756) scale(1 1.1) translate(0 -756)">Y<tspan font-size="14" dx="0" dy="0.7">4</tspan></text>
<text x="1129.34" y="729" font-size="20" font-weight="700" fill="#1e1e1e" text-anchor="start" font-family="&quot;Liberation Sans&quot;, Arial, Helvetica, sans-serif" >124</text>
<text x="1427.54" y="728.8" font-size="20" font-weight="700" fill="#1e1e1e" text-anchor="start" font-family="&quot;Liberation Sans&quot;, Arial, Helvetica, sans-serif" >134</text>
</svg></body></html>
